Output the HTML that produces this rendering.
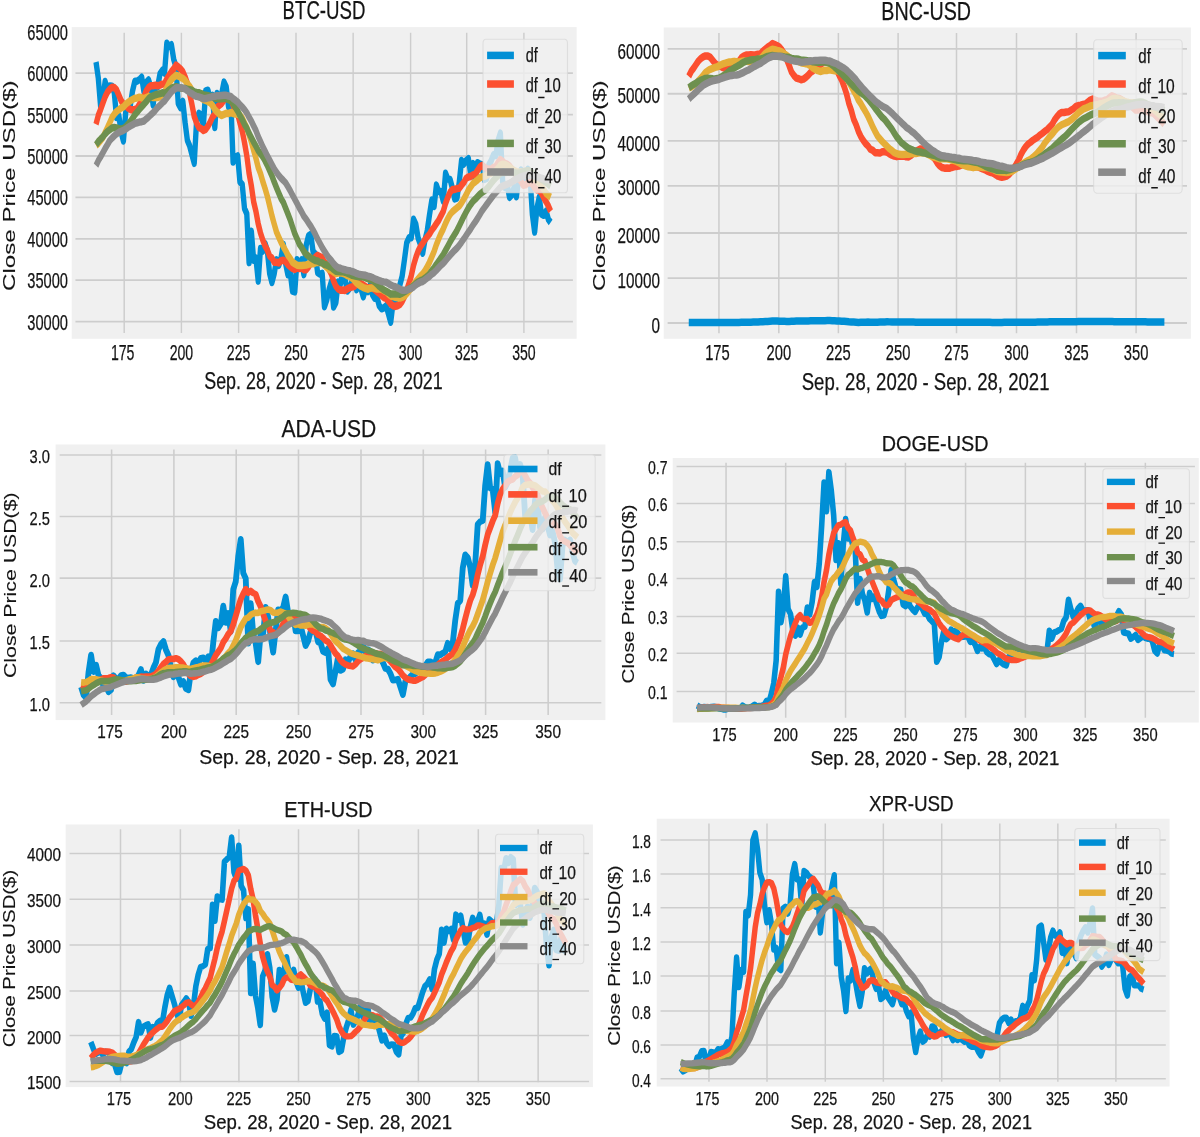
<!DOCTYPE html>
<html><head><meta charset="utf-8"><title>Crypto close price moving averages</title>
<style>html,body{margin:0;padding:0;background:#fff}svg{display:block;will-change:transform}text{stroke:#141414;stroke-width:.25px;stroke-linejoin:round}</style></head>
<body>
<svg width="1200" height="1137" viewBox="0 0 1200 1137">
<rect width="1200" height="1137" fill="#fff"/>
<g font-family="'Liberation Sans', sans-serif" fill="#141414">
<!-- BTC-USD -->
<rect x="71.7" y="27.1" width="504.95" height="311.65" fill="#f0f0f0"/>
<path d="M124.2 32.73V333.12M181.4 32.73V333.12M238.6 32.73V333.12M296 32.73V333.12M353.15 32.73V333.12M410.6 32.73V333.12M466.7 32.73V333.12M523.9 32.73V333.12" stroke="#cdcdcd" stroke-width="1.45" fill="none"/>
<path d="M75.44 321.6H572.91M75.44 280.2H572.91M75.44 238.8H572.91M75.44 197.4H572.91M75.44 156H572.91M75.44 114.6H572.91M75.44 73.2H572.91" stroke="#cdcdcd" stroke-width="1.78" fill="none"/>
<clipPath id="c0"><rect x="56.28" y="17.44" width="371.14" height="160.08"/></clipPath>
<g transform="scale(1.3404 1.8765)" fill="none" stroke-width="4" stroke-linejoin="round" stroke-linecap="butt" clip-path="url(#c0)">
<polyline points="71.63,32.99 73.33,41.56 75.03,56.54 76.74,52.58 78.44,43.46 80.15,47.93 81.85,45.77 83.56,45.92 85.26,49.41 86.96,62.62 88.67,61.69 90.37,70.36 92.08,75.08 93.78,59.93 95.49,56.24 97.19,56.35 98.90,48.40 100.60,43.25 102.30,43.25 104.01,42.47 105.71,41.19 107.42,49.05 109.12,43.96 110.83,42.64 112.53,46.45 114.23,55.91 115.94,45.88 117.64,46.22 119.35,39.39 121.05,37.58 122.76,38.95 124.46,23.02 126.17,24.76 127.87,23.85 129.57,31.54 131.28,35.46 132.98,55.17 134.69,57.34 136.39,54.04 138.10,65.37 139.80,74.83 141.50,77.78 143.21,82.38 144.91,87.00 146.62,64.86 148.32,60.39 150.03,61.31 151.73,66.91 153.44,48.40 155.14,48.06 156.84,53.34 158.55,50.83 160.25,67.89 161.96,49.84 163.66,54.38 165.37,50.14 167.07,43.76 168.77,46.28 170.48,56.75 172.18,53.02 173.89,86.35 175.59,83.85 177.30,83.13 179.00,96.90 180.71,98.24 182.41,111.12 184.11,113.89 185.82,139.95 187.52,123.27 189.23,138.62 190.93,137.60 192.64,149.80 194.34,132.44 196.04,133.78 197.75,129.84 199.45,133.63 201.16,145.71 202.86,150.48 204.57,145.80 206.27,138.50 207.98,141.36 209.68,137.43 211.38,130.22 213.09,140.43 214.79,146.36 216.50,144.98 218.20,155.14 219.91,155.53 221.61,138.44 223.31,141.28 225.02,138.49 226.72,146.35 228.43,130.71 230.13,125.76 231.84,124.93 233.54,134.02 235.25,135.32 236.95,145.31 238.65,146.07 240.36,145.71 242.06,163.45 243.77,159.80 245.47,154.42 247.18,150.28 248.88,163.63 250.59,161.20 252.29,150.34 253.99,151.28 255.70,144.96 257.40,148.61 259.11,155.09 260.81,153.65 262.52,150.25 264.22,147.52 265.92,154.32 267.63,152.16 269.33,153.84 271.04,158.15 272.74,154.09 274.45,155.32 276.15,152.14 277.86,156.93 279.56,158.93 281.26,158.40 282.97,163.00 284.67,164.58 286.38,164.09 288.08,162.92 289.79,167.24 291.49,171.70 293.19,161.54 294.90,160.64 296.60,155.05 298.31,151.91 300.01,147.24 301.72,138.48 303.42,129.35 305.13,126.75 306.83,126.69 308.53,116.86 310.24,119.55 311.94,126.84 313.65,130.25 315.35,134.88 317.06,127.84 318.76,122.89 320.46,114.30 322.17,106.63 323.87,109.97 325.58,98.64 327.28,102.08 328.99,102.05 330.69,107.19 332.40,92.34 334.10,95.41 335.80,95.63 337.51,100.23 339.21,106.01 340.92,105.54 342.62,97.09 344.33,85.52 346.03,87.43 347.73,85.60 349.44,84.60 351.14,92.72 352.85,87.19 354.55,96.09 356.26,86.76 357.96,87.45 359.67,87.77 361.37,95.60 363.07,95.11 364.78,87.69 366.48,85.57 368.19,82.49 369.89,82.85 371.60,74.87 373.30,70.98 375.00,96.67 376.71,99.85 378.41,98.52 380.12,105.18 381.82,103.78 383.53,99.97 385.23,104.83 386.94,95.43 388.64,90.65 390.34,92.38 392.05,94.66 393.75,90.20 395.46,94.69 397.16,114.18 398.87,123.67 400.57,110.95 402.27,105.13 403.98,114.20 405.68,114.74 407.39,112.57 409.09,116.86 410.80,118.56" stroke="#008fd5"/>
<polyline points="71.63,66.25 73.33,61.51 75.03,58.43 76.74,54.94 78.44,51.56 80.15,49.09 81.85,47.53 83.56,46.52 85.26,46.64 86.96,47.88 88.67,50.75 90.37,53.63 92.08,55.48 93.78,56.22 95.49,57.50 97.19,58.34 98.90,58.60 100.60,58.33 102.30,57.72 104.01,55.70 105.71,53.65 107.42,51.52 109.12,48.41 110.83,46.68 112.53,45.70 114.23,45.66 115.94,45.41 117.64,45.70 119.35,45.32 121.05,44.83 122.76,44.60 124.46,42.00 126.17,40.08 127.87,38.20 129.57,36.71 131.28,34.66 132.98,35.59 134.69,36.71 136.39,38.17 138.10,40.95 139.80,44.54 141.50,50.01 143.21,55.78 144.91,62.09 146.62,65.42 148.32,67.91 150.03,68.53 151.73,69.49 153.44,68.92 155.14,67.19 156.84,65.04 158.55,62.35 160.25,60.90 161.96,57.19 163.66,56.14 165.37,55.11 167.07,53.36 168.77,51.29 170.48,52.13 172.18,52.62 173.89,55.92 175.59,59.23 177.30,60.75 179.00,65.46 180.71,69.84 182.41,75.94 184.11,82.95 185.82,92.32 187.52,98.97 189.23,107.53 190.93,112.66 192.64,119.25 194.34,124.18 196.04,127.87 197.75,131.03 199.45,133.28 201.16,136.46 202.86,137.52 204.57,139.77 206.27,139.76 207.98,140.13 209.68,138.89 211.38,138.67 213.09,139.34 214.79,140.99 216.50,142.13 218.20,143.07 219.91,143.57 221.61,142.84 223.31,143.12 225.02,142.83 226.72,143.72 228.43,143.77 230.13,142.30 231.84,140.16 233.54,139.07 235.25,137.08 236.95,136.06 238.65,136.82 240.36,137.27 242.06,139.76 243.77,141.11 245.47,143.48 247.18,145.93 248.88,149.80 250.59,152.52 252.29,154.02 253.99,154.62 255.70,154.51 257.40,154.80 259.11,153.96 260.81,153.35 262.52,152.93 264.22,152.65 265.92,151.72 267.63,150.82 269.33,151.17 271.04,151.86 272.74,152.77 274.45,153.44 276.15,153.15 277.86,153.47 279.56,154.34 281.26,155.43 282.97,156.30 284.67,157.54 286.38,158.56 288.08,159.04 289.79,160.35 291.49,161.99 293.19,162.93 294.90,163.30 296.60,162.92 298.31,162.27 300.01,160.69 301.72,158.08 303.42,154.61 305.13,150.99 306.83,146.93 308.53,141.45 310.24,137.25 311.94,133.87 313.65,131.39 315.35,129.69 317.06,127.75 318.76,126.19 320.46,124.69 322.17,122.67 323.87,121.00 325.58,119.18 327.28,117.43 328.99,114.95 330.69,112.65 332.40,108.39 334.10,105.15 335.80,102.42 337.51,101.02 339.21,100.95 340.92,100.51 342.62,100.36 344.33,98.70 346.03,97.24 347.73,95.08 349.44,94.31 351.14,94.04 352.85,93.19 354.55,92.78 356.26,90.85 357.96,89.04 359.67,88.11 361.37,89.12 363.07,89.89 364.78,90.10 366.48,90.19 368.19,89.17 369.89,88.74 371.60,86.61 373.30,85.04 375.00,85.96 376.71,87.17 378.41,87.46 380.12,88.47 381.82,90.08 383.53,91.52 385.23,93.75 386.94,95.01 388.64,96.59 390.34,98.73 392.05,98.52 393.75,97.56 395.46,97.18 397.16,98.08 398.87,100.07 400.57,101.16 402.27,101.19 403.98,103.07 405.68,105.48 407.39,107.50 409.09,109.72 410.80,112.56" stroke="#fc4f30"/>
<polyline points="71.63,77.50 73.33,76.38 75.03,74.82 76.74,73.25 78.44,70.65 80.15,68.11 81.85,65.43 83.56,62.52 85.26,60.78 86.96,59.42 88.67,58.50 90.37,57.57 92.08,56.95 93.78,55.58 95.49,54.53 97.19,53.71 98.90,53.07 100.60,52.42 102.30,52.18 104.01,51.79 105.71,52.20 107.42,52.58 109.12,51.95 110.83,51.45 112.53,51.60 114.23,52.00 115.94,52.00 117.64,52.02 119.35,51.52 121.05,50.27 122.76,49.13 124.46,46.76 126.17,44.24 127.87,42.44 129.57,41.21 131.28,40.16 132.98,40.50 134.69,41.20 136.39,41.74 138.10,42.89 139.80,44.57 141.50,46.01 143.21,47.93 144.91,50.15 146.62,51.07 148.32,51.29 150.03,52.06 151.73,53.10 153.44,53.55 155.14,54.07 156.84,54.79 158.55,56.18 160.25,58.34 161.96,59.64 163.66,60.78 165.37,61.51 167.07,60.94 168.77,60.39 170.48,60.52 172.18,59.91 173.89,60.48 175.59,60.79 177.30,60.83 179.00,61.32 180.71,62.99 182.41,65.53 184.11,68.15 185.82,71.81 187.52,75.55 189.23,80.08 190.93,84.29 192.64,89.24 194.34,92.47 196.04,96.66 197.75,100.44 199.45,104.61 201.16,109.71 202.86,114.92 204.57,119.37 206.27,123.64 207.98,126.39 209.68,129.07 211.38,131.43 213.09,133.60 214.79,136.01 216.50,137.70 218.20,139.77 219.91,140.55 221.61,141.30 223.31,141.44 225.02,141.48 226.72,141.31 228.43,141.22 230.13,140.82 231.84,140.58 233.54,140.60 235.25,140.08 236.95,139.82 238.65,139.83 240.36,140.19 242.06,141.30 243.77,142.42 245.47,143.63 247.18,144.12 248.88,144.98 250.59,145.79 252.29,145.55 253.99,145.34 255.70,145.67 257.40,146.03 259.11,146.86 260.81,147.23 262.52,148.20 264.22,149.29 265.92,150.76 267.63,151.67 269.33,152.60 271.04,153.24 272.74,153.64 274.45,154.12 276.15,153.55 277.86,153.41 279.56,153.63 281.26,154.04 282.97,154.01 284.67,154.18 286.38,154.87 288.08,155.45 289.79,156.56 291.49,157.72 293.19,158.04 294.90,158.39 296.60,158.63 298.31,158.85 300.01,158.49 301.72,157.81 303.42,156.58 305.13,155.01 306.83,153.64 308.53,151.72 310.24,150.09 311.94,148.59 313.65,147.15 315.35,145.98 317.06,144.22 318.76,142.14 320.46,139.65 322.17,136.83 323.87,133.97 325.58,130.31 327.28,127.34 328.99,124.41 330.69,122.02 332.40,119.04 334.10,116.45 335.80,114.31 337.51,112.85 339.21,111.81 340.92,110.76 342.62,109.77 344.33,108.07 346.03,106.10 347.73,103.86 349.44,101.35 351.14,99.59 352.85,97.81 354.55,96.90 356.26,95.90 357.96,94.78 359.67,94.23 361.37,93.91 363.07,93.56 364.78,92.59 366.48,92.25 368.19,91.60 369.89,90.96 371.60,89.70 373.30,87.94 375.00,87.50 376.71,87.64 378.41,88.29 380.12,89.18 381.82,90.09 383.53,90.85 385.23,91.46 386.94,91.87 388.64,91.60 390.34,91.88 392.05,92.24 393.75,92.36 395.46,92.32 397.16,93.27 398.87,95.07 400.57,96.34 402.27,97.47 403.98,99.04 405.68,101.03 407.39,103.11 409.09,104.12 410.80,105.06" stroke="#e5ae38"/>
<polyline points="71.63,77.17 73.33,75.43 75.03,74.14 76.74,72.95 78.44,71.34 80.15,70.07 81.85,69.16 83.56,68.18 85.26,67.94 86.96,68.17 88.67,68.58 90.37,68.80 92.08,68.37 93.78,67.57 95.49,66.27 97.19,64.85 98.90,63.15 100.60,61.13 102.30,59.76 104.01,58.18 105.71,56.88 107.42,55.55 109.12,54.11 110.83,52.61 112.53,51.59 114.23,51.03 115.94,50.51 117.64,50.18 119.35,49.89 121.05,49.47 122.76,49.67 124.46,49.05 126.17,47.99 127.87,47.03 129.57,46.64 131.28,46.22 132.98,46.53 134.69,46.91 136.39,47.07 138.10,47.16 139.80,47.60 141.50,47.85 143.21,48.09 144.91,48.99 146.62,49.28 148.32,49.41 150.03,49.84 151.73,50.63 153.44,50.80 155.14,50.99 156.84,51.39 158.55,51.45 160.25,52.25 161.96,52.49 163.66,52.76 165.37,52.56 167.07,52.49 168.77,52.49 170.48,53.07 172.18,53.59 173.89,55.17 175.59,57.20 177.30,59.14 179.00,61.58 180.71,63.80 182.41,66.32 184.11,68.28 185.82,71.03 187.52,73.34 189.23,75.78 190.93,77.87 192.64,80.28 194.34,81.94 196.04,83.50 197.75,85.67 199.45,88.11 201.16,90.92 202.86,93.71 204.57,96.96 206.27,99.97 207.98,102.90 209.68,105.79 211.38,107.87 213.09,110.89 214.79,113.95 216.50,117.12 218.20,120.83 219.91,124.47 221.61,127.19 223.31,130.14 225.02,131.87 226.72,133.96 228.43,135.54 230.13,136.50 231.84,137.39 233.54,138.16 235.25,138.87 236.95,139.05 238.65,139.81 240.36,140.05 242.06,140.91 243.77,141.24 245.47,141.97 247.18,142.52 248.88,143.65 250.59,144.57 252.29,144.72 253.99,144.75 255.70,144.72 257.40,145.06 259.11,145.52 260.81,146.06 262.52,146.73 264.22,146.96 265.92,147.23 267.63,147.47 269.33,147.42 271.04,147.51 272.74,148.03 274.45,148.50 276.15,148.96 277.86,149.31 279.56,150.25 281.26,151.34 282.97,152.61 284.67,153.63 286.38,154.58 288.08,155.17 289.79,155.88 291.49,156.74 293.19,156.68 294.90,156.71 296.60,156.73 298.31,156.78 300.01,156.24 301.72,155.48 303.42,154.78 305.13,153.96 306.83,153.35 308.53,152.29 310.24,151.11 311.94,150.22 313.65,149.55 315.35,149.13 317.06,148.25 318.76,147.27 320.46,145.95 322.17,144.23 323.87,142.76 325.58,140.87 327.28,139.21 328.99,137.38 330.69,135.65 332.40,133.45 334.10,131.20 335.80,128.90 337.51,126.77 339.21,124.87 340.92,122.82 342.62,120.33 344.33,117.79 346.03,115.35 347.73,113.04 349.44,110.80 351.14,108.98 352.85,107.27 354.55,106.16 356.26,104.83 357.96,103.52 359.67,102.55 361.37,101.75 363.07,100.69 364.78,99.27 366.48,97.63 368.19,96.12 369.89,94.78 371.60,93.47 373.30,92.28 375.00,91.84 376.71,91.88 378.41,91.76 380.12,91.86 381.82,91.75 383.53,92.01 385.23,92.32 386.94,92.31 388.64,91.99 390.34,91.54 392.05,91.18 393.75,90.95 395.46,91.25 397.16,92.14 398.87,93.41 400.57,94.29 402.27,94.70 403.98,95.60 405.68,96.23 407.39,97.09 409.09,98.07 410.80,99.09" stroke="#6d904f"/>
<polyline points="71.63,88.26 73.33,85.64 75.03,83.61 76.74,81.41 78.44,79.13 80.15,77.08 81.85,74.93 83.56,73.59 85.26,72.38 86.96,71.32 88.67,70.56 90.37,69.98 92.08,69.47 93.78,68.77 95.49,67.88 97.19,67.14 98.90,66.52 100.60,65.72 102.30,65.39 104.01,65.06 105.71,64.85 107.42,64.48 109.12,63.38 110.83,62.35 112.53,61.13 114.23,60.05 115.94,58.72 117.64,57.27 119.35,56.15 121.05,54.84 122.76,53.81 124.46,52.16 126.17,50.60 127.87,49.01 129.57,47.87 131.28,46.94 132.98,46.78 134.69,46.81 136.39,46.96 138.10,47.34 139.80,48.39 141.50,49.29 143.21,49.94 144.91,50.80 146.62,51.33 148.32,51.64 150.03,52.03 151.73,52.56 153.44,52.53 155.14,52.17 156.84,51.96 158.55,51.47 160.25,51.29 161.96,51.04 163.66,50.99 165.37,50.84 167.07,50.72 168.77,50.80 170.48,51.13 172.18,51.40 173.89,52.53 175.59,53.40 177.30,54.38 179.00,55.73 180.71,57.03 182.41,58.41 184.11,60.11 185.82,62.45 187.52,64.55 189.23,67.07 190.93,69.54 192.64,72.71 194.34,75.40 196.04,78.15 197.75,80.61 199.45,83.06 201.16,85.33 202.86,87.65 204.57,89.95 206.27,91.78 207.98,93.44 209.68,94.93 211.38,96.13 213.09,97.46 214.79,99.50 216.50,101.61 218.20,103.96 219.91,106.18 221.61,108.43 223.31,110.76 225.02,112.89 226.72,115.27 228.43,116.84 230.13,118.74 231.84,120.51 233.54,122.60 235.25,124.89 236.95,127.37 238.65,129.60 240.36,131.92 242.06,133.85 243.77,135.74 245.47,137.53 247.18,138.86 248.88,140.50 250.59,141.75 252.29,142.66 253.99,142.94 255.70,143.48 257.40,143.73 259.11,144.17 260.81,144.27 262.52,144.71 264.22,145.06 265.92,145.67 267.63,146.13 269.33,146.34 271.04,146.53 272.74,146.73 274.45,147.16 276.15,147.42 277.86,147.91 279.56,148.63 281.26,149.08 282.97,149.50 284.67,149.99 286.38,150.21 288.08,150.39 289.79,151.11 291.49,151.87 293.19,152.45 294.90,152.81 296.60,153.42 298.31,154.07 300.01,154.63 301.72,154.74 303.42,154.59 305.13,154.13 306.83,153.64 308.53,152.92 310.24,151.82 311.94,151.00 313.65,150.39 315.35,150.01 317.06,149.11 318.76,148.16 320.46,147.26 322.17,146.14 323.87,145.26 325.58,144.02 327.28,142.69 328.99,141.40 330.69,140.32 332.40,138.94 334.10,137.47 335.80,136.06 337.51,134.72 339.21,133.41 340.92,132.20 342.62,130.74 344.33,129.08 346.03,127.34 347.73,125.51 349.44,123.66 351.14,121.91 352.85,119.97 354.55,118.27 356.26,116.37 357.96,114.37 359.67,112.27 361.37,110.63 363.07,108.99 364.78,107.30 366.48,105.64 368.19,104.03 369.89,102.64 371.60,101.27 373.30,99.88 375.00,99.13 376.71,98.70 378.41,98.18 380.12,97.64 381.82,96.97 383.53,96.10 385.23,95.53 386.94,94.84 388.64,94.25 390.34,93.89 392.05,93.51 393.75,93.30 395.46,93.11 397.16,93.42 398.87,93.83 400.57,94.29 402.27,94.54 403.98,95.00 405.68,95.36 407.39,95.53 409.09,95.81 410.80,96.35" stroke="#8b8b8b"/>
</g>
<rect x="483" y="39.25" width="84.5" height="153.55" rx="2.95" ry="4.13" fill="#f0f0f0" fill-opacity="0.8" stroke="#d8d8d8" stroke-opacity="0.75" stroke-width="1.1"/>
<rect x="487.1" y="51.65" width="26.8" height="7.51" fill="#008fd5"/>
<text x="525.71" y="62.34" font-size="20.72" text-anchor="start" textLength="12.06" lengthAdjust="spacingAndGlyphs">df</text>
<rect x="487.1" y="80.25" width="26.8" height="7.51" fill="#fc4f30"/>
<text x="525.71" y="92.42" font-size="20.72" text-anchor="start" textLength="12.06" lengthAdjust="spacingAndGlyphs">df</text>
<rect x="538.18" y="96.74" width="6.3" height="1.5" fill="#141414"/>
<text x="544.08" y="92.42" font-size="20.72" text-anchor="start" textLength="16.62" lengthAdjust="spacingAndGlyphs">10</text>
<rect x="487.1" y="109.85" width="26.8" height="7.51" fill="#e5ae38"/>
<text x="525.71" y="122.5" font-size="20.72" text-anchor="start" textLength="12.06" lengthAdjust="spacingAndGlyphs">df</text>
<rect x="538.18" y="126.82" width="6.3" height="1.5" fill="#141414"/>
<text x="544.61" y="122.5" font-size="20.72" text-anchor="start" textLength="16.62" lengthAdjust="spacingAndGlyphs">20</text>
<rect x="487.1" y="139.65" width="26.8" height="7.51" fill="#6d904f"/>
<text x="525.71" y="152.58" font-size="20.72" text-anchor="start" textLength="12.06" lengthAdjust="spacingAndGlyphs">df</text>
<rect x="538.18" y="156.9" width="6.3" height="1.5" fill="#141414"/>
<text x="544.61" y="152.58" font-size="20.72" text-anchor="start" textLength="16.62" lengthAdjust="spacingAndGlyphs">30</text>
<rect x="487.1" y="168.25" width="26.8" height="7.51" fill="#8b8b8b"/>
<text x="525.71" y="182.66" font-size="20.72" text-anchor="start" textLength="12.06" lengthAdjust="spacingAndGlyphs">df</text>
<rect x="538.18" y="186.98" width="6.3" height="1.5" fill="#141414"/>
<text x="544.61" y="182.66" font-size="20.72" text-anchor="start" textLength="16.62" lengthAdjust="spacingAndGlyphs">40</text>
<text x="122.7" y="360" font-size="21.58" text-anchor="middle" textLength="23.53" lengthAdjust="spacingAndGlyphs">175</text>
<text x="181.4" y="360" font-size="21.58" text-anchor="middle" textLength="23.53" lengthAdjust="spacingAndGlyphs">200</text>
<text x="238.6" y="360" font-size="21.58" text-anchor="middle" textLength="23.53" lengthAdjust="spacingAndGlyphs">225</text>
<text x="296" y="360" font-size="21.58" text-anchor="middle" textLength="23.53" lengthAdjust="spacingAndGlyphs">250</text>
<text x="353.15" y="360" font-size="21.58" text-anchor="middle" textLength="23.53" lengthAdjust="spacingAndGlyphs">275</text>
<text x="410.6" y="360" font-size="21.58" text-anchor="middle" textLength="23.53" lengthAdjust="spacingAndGlyphs">300</text>
<text x="466.7" y="360" font-size="21.58" text-anchor="middle" textLength="23.53" lengthAdjust="spacingAndGlyphs">325</text>
<text x="523.9" y="360" font-size="21.58" text-anchor="middle" textLength="23.53" lengthAdjust="spacingAndGlyphs">350</text>
<text x="68" y="329.51" font-size="21.58" text-anchor="end" textLength="40.71" lengthAdjust="spacingAndGlyphs">30000</text>
<text x="68" y="288.11" font-size="21.58" text-anchor="end" textLength="40.71" lengthAdjust="spacingAndGlyphs">35000</text>
<text x="68" y="246.71" font-size="21.58" text-anchor="end" textLength="40.71" lengthAdjust="spacingAndGlyphs">40000</text>
<text x="68" y="205.31" font-size="21.58" text-anchor="end" textLength="40.71" lengthAdjust="spacingAndGlyphs">45000</text>
<text x="68" y="163.91" font-size="21.58" text-anchor="end" textLength="40.71" lengthAdjust="spacingAndGlyphs">50000</text>
<text x="68" y="122.51" font-size="21.58" text-anchor="end" textLength="40.71" lengthAdjust="spacingAndGlyphs">55000</text>
<text x="68" y="81.11" font-size="21.58" text-anchor="end" textLength="40.71" lengthAdjust="spacingAndGlyphs">60000</text>
<text x="68" y="39.71" font-size="21.58" text-anchor="end" textLength="40.71" lengthAdjust="spacingAndGlyphs">65000</text>
<text x="324" y="19.3" font-size="26.08" text-anchor="middle" textLength="82.9" lengthAdjust="spacingAndGlyphs">BTC-USD</text>
<text x="323.5" y="389.4" font-size="23.27" text-anchor="middle" textLength="238.5" lengthAdjust="spacingAndGlyphs">Sep. 28, 2020 - Sep. 28, 2021</text>
<text transform="translate(14.83 185.7) rotate(-90)" style="stroke-width:.1px" font-size="15.72" text-anchor="middle" textLength="210.6" lengthAdjust="spacingAndGlyphs">Close Price USD($)</text>
<!-- BNC-USD -->
<rect x="663.75" y="27.5" width="527.15" height="311.25" fill="#f0f0f0"/>
<path d="M718.95 33.12V333.13M778.8 33.12V333.13M838.4 33.12V333.13M898.1 33.12V333.13M956.5 33.12V333.13M1016.5 33.12V333.13M1076.5 33.12V333.13M1136.1 33.12V333.13" stroke="#cdcdcd" stroke-width="1.51" fill="none"/>
<path d="M667.65 323H1187M667.65 278.1H1187M667.65 233H1187M667.65 185.8H1187M667.65 140.9H1187M667.65 93.75H1187M667.65 48.9H1187" stroke="#cdcdcd" stroke-width="1.78" fill="none"/>
<clipPath id="c1"><rect x="477.12" y="17.67" width="371.14" height="160.08"/></clipPath>
<g transform="scale(1.3993 1.8741)" fill="none" stroke-width="4" stroke-linejoin="round" stroke-linecap="butt" clip-path="url(#c1)">
<polyline points="492.21,172.03 493.92,172.04 495.63,172.04 497.34,172.05 499.05,172.05 500.75,172.06 502.46,172.06 504.17,172.07 505.88,172.07 507.59,172.07 509.29,172.07 511.00,172.07 512.71,172.07 514.42,172.08 516.13,172.08 517.83,172.08 519.54,172.08 521.25,172.08 522.96,172.07 524.67,172.06 526.38,172.04 528.08,172.02 529.79,172.00 531.50,171.98 533.21,171.96 534.92,171.94 536.62,171.91 538.33,171.88 540.04,171.83 541.75,171.76 543.46,171.69 545.16,171.63 546.87,171.57 548.58,171.51 550.29,171.44 552.00,171.34 553.70,171.27 555.41,171.32 557.12,171.41 558.83,171.47 560.54,171.48 562.25,171.49 563.95,171.49 565.66,171.46 567.37,171.40 569.08,171.34 570.79,171.32 572.49,171.29 574.20,171.27 575.91,171.25 577.62,171.22 579.33,171.20 581.03,171.17 582.74,171.15 584.45,171.13 586.16,171.11 587.87,171.10 589.57,171.09 591.28,171.08 592.99,171.08 594.70,171.11 596.41,171.18 598.12,171.25 599.82,171.30 601.53,171.36 603.24,171.44 604.95,171.59 606.66,171.74 608.36,171.82 610.07,171.88 611.78,171.97 613.49,172.03 615.20,172.01 616.90,171.96 618.61,171.91 620.32,171.88 622.03,171.89 623.74,171.89 625.45,171.90 627.15,171.91 628.86,171.88 630.57,171.82 632.28,171.76 633.99,171.74 635.69,171.75 637.40,171.78 639.11,171.81 640.82,171.83 642.53,171.84 644.23,171.84 645.94,171.85 647.65,171.85 649.36,171.85 651.07,171.86 652.77,171.87 654.48,171.89 656.19,171.92 657.90,171.94 659.61,171.97 661.32,171.98 663.02,171.99 664.73,172.00 666.44,172.00 668.15,172.00 669.86,172.00 671.56,172.00 673.27,171.99 674.98,171.98 676.69,171.97 678.40,171.96 680.10,171.95 681.81,171.94 683.52,171.93 685.23,171.93 686.94,171.93 688.65,171.94 690.35,171.94 692.06,171.95 693.77,171.95 695.48,171.96 697.19,171.96 698.89,171.96 700.60,171.97 702.31,171.97 704.02,171.97 705.73,171.98 707.43,172.00 709.14,172.02 710.85,172.04 712.56,172.05 714.27,172.04 715.97,172.02 717.68,172.00 719.39,171.98 721.10,171.97 722.81,171.96 724.52,171.95 726.22,171.94 727.93,171.94 729.64,171.93 731.35,171.92 733.06,171.91 734.76,171.91 736.47,171.90 738.18,171.89 739.89,171.89 741.60,171.88 743.30,171.87 745.01,171.84 746.72,171.80 748.43,171.76 750.14,171.74 751.84,171.73 753.55,171.73 755.26,171.72 756.97,171.72 758.68,171.72 760.39,171.71 762.09,171.70 763.80,171.69 765.51,171.67 767.22,171.65 768.93,171.63 770.63,171.61 772.34,171.60 774.05,171.58 775.76,171.56 777.47,171.54 779.17,171.52 780.88,171.51 782.59,171.50 784.30,171.49 786.01,171.49 787.72,171.50 789.42,171.50 791.13,171.50 792.84,171.50 794.55,171.49 796.26,171.69 797.96,171.70 799.67,171.71 801.38,171.71 803.09,171.71 804.80,171.71 806.50,171.70 808.21,171.70 809.92,171.69 811.63,171.69 813.34,171.69 815.04,171.69 816.75,171.70 818.46,171.71 820.17,171.77 821.88,171.83 823.59,171.84 825.29,171.85 827.00,171.85 828.71,171.86 830.42,171.87 832.13,171.88" stroke="#008fd5"/>
<polyline points="492.21,40.75 493.92,38.13 495.63,36.42 497.34,34.49 499.05,32.61 500.75,31.24 502.46,30.38 504.17,29.82 505.88,29.89 507.59,30.57 509.29,32.16 511.00,33.76 512.71,34.79 514.42,35.19 516.13,35.90 517.83,36.37 519.54,36.51 521.25,36.37 522.96,36.03 524.67,34.91 526.38,33.77 528.08,32.59 529.79,30.87 531.50,29.91 533.21,29.37 534.92,29.34 536.62,29.20 538.33,29.37 540.04,29.15 541.75,28.88 543.46,28.76 545.16,27.31 546.87,26.25 548.58,25.21 550.29,24.38 552.00,23.25 553.70,23.77 555.41,24.38 557.12,25.19 558.83,26.73 560.54,28.72 562.25,31.76 563.95,34.95 565.66,38.45 567.37,40.29 569.08,41.68 570.79,42.02 572.49,42.55 574.20,42.23 575.91,41.28 577.62,40.09 579.33,38.59 581.03,37.79 582.74,35.73 584.45,35.15 586.16,34.58 587.87,33.61 589.57,32.47 591.28,32.93 592.99,33.20 594.70,35.03 596.41,36.86 598.12,37.71 599.82,40.31 601.53,42.74 603.24,46.12 604.95,50.01 606.66,55.20 608.36,58.89 610.07,63.63 611.78,66.47 613.49,70.13 615.20,72.86 616.90,74.90 618.61,76.65 620.32,77.90 622.03,79.66 623.74,80.25 625.45,81.49 627.15,81.49 628.86,81.70 630.57,81.01 632.28,80.89 633.99,81.26 635.69,82.17 637.40,82.80 639.11,83.32 640.82,83.60 642.53,83.20 644.23,83.35 645.94,83.19 647.65,83.69 649.36,83.71 651.07,82.90 652.77,81.71 654.48,81.10 656.19,80.01 657.90,79.44 659.61,79.86 661.32,80.11 663.02,81.49 664.73,82.24 666.44,83.55 668.15,84.91 669.86,87.05 671.56,88.56 673.27,89.39 674.98,89.72 676.69,89.66 678.40,89.82 680.10,89.36 681.81,89.02 683.52,88.79 685.23,88.63 686.94,88.12 688.65,87.62 690.35,87.81 692.06,88.19 693.77,88.70 695.48,89.07 697.19,88.91 698.89,89.09 700.60,89.57 702.31,90.17 704.02,90.65 705.73,91.34 707.43,91.91 709.14,92.17 710.85,92.90 712.56,93.81 714.27,94.33 715.97,94.54 717.68,94.32 719.39,93.96 721.10,93.09 722.81,91.64 724.52,89.72 726.22,87.71 727.93,85.47 729.64,82.43 731.35,80.10 733.06,78.23 734.76,76.85 736.47,75.91 738.18,74.83 739.89,73.97 741.60,73.14 743.30,72.02 745.01,71.09 746.72,70.08 748.43,69.12 750.14,67.74 751.84,66.46 753.55,64.11 755.26,62.31 756.97,60.80 758.68,60.02 760.39,59.99 762.09,59.74 763.80,59.65 765.51,58.74 767.22,57.93 768.93,56.73 770.63,56.30 772.34,56.15 774.05,55.68 775.76,55.46 777.47,54.39 779.17,53.39 780.88,52.87 782.59,53.43 784.30,53.85 786.01,53.97 787.72,54.02 789.42,53.46 791.13,53.21 792.84,52.04 794.55,51.16 796.26,51.68 797.96,52.34 799.67,52.51 801.38,53.07 803.09,53.96 804.80,54.75 806.50,55.99 808.21,56.69 809.92,57.56 811.63,58.75 813.34,58.64 815.04,58.10 816.75,57.89 818.46,58.39 820.17,59.49 821.88,60.10 823.59,60.12 825.29,61.16 827.00,62.49 828.71,63.61 830.42,64.84 832.13,66.41" stroke="#fc4f30"/>
<polyline points="492.21,46.99 493.92,46.37 495.63,45.50 497.34,44.63 499.05,43.19 500.75,41.78 502.46,40.30 504.17,38.69 505.88,37.72 507.59,36.97 509.29,36.46 511.00,35.94 512.71,35.60 514.42,34.84 516.13,34.26 517.83,33.81 519.54,33.45 521.25,33.09 522.96,32.96 524.67,32.74 526.38,32.97 528.08,33.18 529.79,32.83 531.50,32.55 533.21,32.63 534.92,32.86 536.62,32.86 538.33,32.87 540.04,32.59 541.75,31.90 543.46,31.27 545.16,29.95 546.87,28.56 548.58,27.56 550.29,26.88 552.00,26.30 553.70,26.48 555.41,26.87 557.12,27.17 558.83,27.81 560.54,28.74 562.25,29.54 563.95,30.60 565.66,31.83 567.37,32.34 569.08,32.46 570.79,32.89 572.49,33.46 574.20,33.71 575.91,34.00 577.62,34.40 579.33,35.17 581.03,36.37 582.74,37.09 584.45,37.72 586.16,38.13 587.87,37.81 589.57,37.51 591.28,37.58 592.99,37.24 594.70,37.56 596.41,37.73 598.12,37.75 599.82,38.02 601.53,38.95 603.24,40.35 604.95,41.81 606.66,43.83 608.36,45.91 610.07,48.42 611.78,50.75 613.49,53.49 615.20,55.28 616.90,57.61 618.61,59.70 620.32,62.01 622.03,64.84 623.74,67.72 625.45,70.19 627.15,72.56 628.86,74.08 630.57,75.57 632.28,76.87 633.99,78.08 635.69,79.41 637.40,80.35 639.11,81.49 640.82,81.92 642.53,82.34 644.23,82.42 645.94,82.44 647.65,82.35 649.36,82.30 651.07,82.08 652.77,81.94 654.48,81.95 656.19,81.66 657.90,81.52 659.61,81.53 661.32,81.73 663.02,82.34 664.73,82.96 666.44,83.63 668.15,83.90 669.86,84.38 671.56,84.83 673.27,84.70 674.98,84.58 676.69,84.76 678.40,84.97 680.10,85.43 681.81,85.63 683.52,86.17 685.23,86.77 686.94,87.59 688.65,88.09 690.35,88.60 692.06,88.96 693.77,89.18 695.48,89.45 697.19,89.13 698.89,89.05 700.60,89.18 702.31,89.40 704.02,89.39 705.73,89.48 707.43,89.86 709.14,90.18 710.85,90.80 712.56,91.44 714.27,91.62 715.97,91.81 717.68,91.95 719.39,92.07 721.10,91.87 722.81,91.49 724.52,90.81 726.22,89.94 727.93,89.18 729.64,88.12 731.35,87.22 733.06,86.38 734.76,85.59 736.47,84.94 738.18,83.96 739.89,82.81 741.60,81.43 743.30,79.87 745.01,78.28 746.72,76.26 748.43,74.61 750.14,72.98 751.84,71.66 753.55,70.01 755.26,68.57 756.97,67.38 758.68,66.58 760.39,66.00 762.09,65.42 763.80,64.87 765.51,63.93 767.22,62.83 768.93,61.60 770.63,60.20 772.34,59.23 774.05,58.24 775.76,57.74 777.47,57.19 779.17,56.56 780.88,56.26 782.59,56.08 784.30,55.89 786.01,55.35 787.72,55.16 789.42,54.80 791.13,54.45 792.84,53.75 794.55,52.78 796.26,52.53 797.96,52.61 799.67,52.97 801.38,53.46 803.09,53.96 804.80,54.39 806.50,54.72 808.21,54.95 809.92,54.80 811.63,54.96 813.34,55.16 815.04,55.22 816.75,55.20 818.46,55.73 820.17,56.72 821.88,57.43 823.59,58.06 825.29,58.92 827.00,60.03 828.71,61.18 830.42,61.74 832.13,62.26" stroke="#e5ae38"/>
<polyline points="492.21,46.80 493.92,45.84 495.63,45.13 497.34,44.47 499.05,43.58 500.75,42.87 502.46,42.37 504.17,41.82 505.88,41.69 507.59,41.82 509.29,42.05 511.00,42.16 512.71,41.93 514.42,41.49 516.13,40.76 517.83,39.98 519.54,39.04 521.25,37.91 522.96,37.16 524.67,36.28 526.38,35.56 528.08,34.83 529.79,34.02 531.50,33.20 533.21,32.63 534.92,32.32 536.62,32.03 538.33,31.85 540.04,31.69 541.75,31.45 543.46,31.56 545.16,31.22 546.87,30.64 548.58,30.10 550.29,29.88 552.00,29.65 553.70,29.83 555.41,30.04 557.12,30.12 558.83,30.18 560.54,30.42 562.25,30.55 563.95,30.69 565.66,31.19 567.37,31.35 569.08,31.42 570.79,31.66 572.49,32.10 574.20,32.19 575.91,32.30 577.62,32.52 579.33,32.55 581.03,33.00 582.74,33.13 584.45,33.28 586.16,33.17 587.87,33.13 589.57,33.13 591.28,33.45 592.99,33.74 594.70,34.61 596.41,35.74 598.12,36.81 599.82,38.16 601.53,39.40 603.24,40.79 604.95,41.88 606.66,43.40 608.36,44.68 610.07,46.04 611.78,47.20 613.49,48.53 615.20,49.45 616.90,50.32 618.61,51.52 620.32,52.87 622.03,54.43 623.74,55.97 625.45,57.77 627.15,59.44 628.86,61.07 630.57,62.67 632.28,63.82 633.99,65.49 635.69,67.19 637.40,68.94 639.11,71.00 640.82,73.02 642.53,74.53 644.23,76.16 645.94,77.12 647.65,78.27 649.36,79.15 651.07,79.69 652.77,80.18 654.48,80.60 656.19,81.00 657.90,81.10 659.61,81.52 661.32,81.65 663.02,82.13 664.73,82.31 666.44,82.72 668.15,83.02 669.86,83.65 671.56,84.16 673.27,84.24 674.98,84.26 676.69,84.24 678.40,84.43 680.10,84.68 681.81,84.98 683.52,85.35 685.23,85.48 686.94,85.63 688.65,85.76 690.35,85.74 692.06,85.79 693.77,86.07 695.48,86.33 697.19,86.59 698.89,86.78 700.60,87.30 702.31,87.91 704.02,88.61 705.73,89.17 707.43,89.70 709.14,90.03 710.85,90.42 712.56,90.90 714.27,90.87 715.97,90.88 717.68,90.89 719.39,90.92 721.10,90.62 722.81,90.20 724.52,89.81 726.22,89.36 727.93,89.02 729.64,88.44 731.35,87.78 733.06,87.28 734.76,86.91 736.47,86.68 738.18,86.19 739.89,85.65 741.60,84.92 743.30,83.97 745.01,83.15 746.72,82.11 748.43,81.18 750.14,80.17 751.84,79.21 753.55,77.99 755.26,76.74 756.97,75.47 758.68,74.29 760.39,73.24 762.09,72.10 763.80,70.72 765.51,69.32 767.22,67.97 768.93,66.68 770.63,65.44 772.34,64.43 774.05,63.48 775.76,62.87 777.47,62.13 779.17,61.41 780.88,60.87 782.59,60.43 784.30,59.84 786.01,59.05 787.72,58.14 789.42,57.31 791.13,56.57 792.84,55.84 794.55,55.18 796.26,54.93 797.96,54.96 799.67,54.89 801.38,54.95 803.09,54.89 804.80,55.03 806.50,55.20 808.21,55.20 809.92,55.02 811.63,54.77 813.34,54.57 815.04,54.44 816.75,54.61 818.46,55.10 820.17,55.81 821.88,56.29 823.59,56.52 825.29,57.02 827.00,57.37 828.71,57.84 830.42,58.39 832.13,58.95" stroke="#6d904f"/>
<polyline points="492.21,52.95 493.92,51.50 495.63,50.37 497.34,49.16 499.05,47.89 500.75,46.75 502.46,45.56 504.17,44.82 505.88,44.15 507.59,43.56 509.29,43.14 511.00,42.82 512.71,42.54 514.42,42.15 516.13,41.66 517.83,41.24 519.54,40.90 521.25,40.46 522.96,40.27 524.67,40.09 526.38,39.98 528.08,39.77 529.79,39.16 531.50,38.59 533.21,37.91 534.92,37.32 536.62,36.58 538.33,35.78 540.04,35.16 541.75,34.43 543.46,33.86 545.16,32.95 546.87,32.08 548.58,31.20 550.29,30.57 552.00,30.05 553.70,29.97 555.41,29.98 557.12,30.06 558.83,30.27 560.54,30.85 562.25,31.36 563.95,31.71 565.66,32.19 567.37,32.49 569.08,32.66 570.79,32.88 572.49,33.17 574.20,33.15 575.91,32.95 577.62,32.83 579.33,32.56 581.03,32.46 582.74,32.32 584.45,32.30 586.16,32.21 587.87,32.15 589.57,32.19 591.28,32.38 592.99,32.52 594.70,33.15 596.41,33.63 598.12,34.17 599.82,34.93 601.53,35.64 603.24,36.41 604.95,37.35 606.66,38.65 608.36,39.81 610.07,41.21 611.78,42.58 613.49,44.33 615.20,45.83 616.90,47.35 618.61,48.71 620.32,50.07 622.03,51.32 623.74,52.61 625.45,53.89 627.15,54.90 628.86,55.82 630.57,56.65 632.28,57.31 633.99,58.05 635.69,59.18 637.40,60.35 639.11,61.65 640.82,62.88 642.53,64.13 644.23,65.42 645.94,66.60 647.65,67.92 649.36,68.79 651.07,69.84 652.77,70.82 654.48,71.98 656.19,73.25 657.90,74.62 659.61,75.86 661.32,77.14 663.02,78.21 664.73,79.26 666.44,80.25 668.15,80.99 669.86,81.90 671.56,82.59 673.27,83.10 674.98,83.25 676.69,83.55 678.40,83.69 680.10,83.93 681.81,83.99 683.52,84.23 685.23,84.42 686.94,84.76 688.65,85.02 690.35,85.13 692.06,85.24 693.77,85.35 695.48,85.59 697.19,85.74 698.89,86.01 700.60,86.41 702.31,86.65 704.02,86.88 705.73,87.16 707.43,87.28 709.14,87.38 710.85,87.78 712.56,88.20 714.27,88.52 715.97,88.72 717.68,89.06 719.39,89.42 721.10,89.73 722.81,89.79 724.52,89.71 726.22,89.45 727.93,89.18 729.64,88.78 731.35,88.17 733.06,87.72 734.76,87.38 736.47,87.17 738.18,86.67 739.89,86.14 741.60,85.64 743.30,85.02 745.01,84.54 746.72,83.85 748.43,83.11 750.14,82.40 751.84,81.80 753.55,81.04 755.26,80.22 756.97,79.44 758.68,78.70 760.39,77.97 762.09,77.30 763.80,76.49 765.51,75.57 767.22,74.61 768.93,73.59 770.63,72.57 772.34,71.60 774.05,70.52 775.76,69.58 777.47,68.53 779.17,67.42 780.88,66.26 782.59,65.34 784.30,64.44 786.01,63.50 787.72,62.58 789.42,61.69 791.13,60.92 792.84,60.16 794.55,59.39 796.26,58.97 797.96,58.74 799.67,58.45 801.38,58.15 803.09,57.78 804.80,57.30 806.50,56.98 808.21,56.60 809.92,56.27 811.63,56.07 813.34,55.86 815.04,55.74 816.75,55.64 818.46,55.81 820.17,56.04 821.88,56.30 823.59,56.43 825.29,56.69 827.00,56.89 828.71,56.98 830.42,57.14 832.13,57.43" stroke="#8b8b8b"/>
</g>
<rect x="1093.7" y="39.7" width="88.5" height="153.5" rx="3.08" ry="4.12" fill="#f0f0f0" fill-opacity="0.8" stroke="#d8d8d8" stroke-opacity="0.75" stroke-width="1.1"/>
<rect x="1098.2" y="51.85" width="27.6" height="7.5" fill="#008fd5"/>
<text x="1138.24" y="62.53" font-size="20.69" text-anchor="start" textLength="12.59" lengthAdjust="spacingAndGlyphs">df</text>
<rect x="1098.2" y="80.25" width="27.6" height="7.5" fill="#fc4f30"/>
<text x="1138.24" y="92.58" font-size="20.69" text-anchor="start" textLength="12.59" lengthAdjust="spacingAndGlyphs">df</text>
<rect x="1151.25" y="96.89" width="6.58" height="1.5" fill="#141414"/>
<text x="1157.41" y="92.58" font-size="20.69" text-anchor="start" textLength="17.35" lengthAdjust="spacingAndGlyphs">10</text>
<rect x="1098.2" y="110.15" width="27.6" height="7.5" fill="#e5ae38"/>
<text x="1138.24" y="122.62" font-size="20.69" text-anchor="start" textLength="12.59" lengthAdjust="spacingAndGlyphs">df</text>
<rect x="1151.25" y="126.93" width="6.58" height="1.5" fill="#141414"/>
<text x="1157.97" y="122.62" font-size="20.69" text-anchor="start" textLength="17.35" lengthAdjust="spacingAndGlyphs">20</text>
<rect x="1098.2" y="140" width="27.6" height="7.5" fill="#6d904f"/>
<text x="1138.24" y="152.66" font-size="20.69" text-anchor="start" textLength="12.59" lengthAdjust="spacingAndGlyphs">df</text>
<rect x="1151.25" y="156.97" width="6.58" height="1.5" fill="#141414"/>
<text x="1157.97" y="152.66" font-size="20.69" text-anchor="start" textLength="17.35" lengthAdjust="spacingAndGlyphs">30</text>
<rect x="1098.2" y="168.45" width="27.6" height="7.5" fill="#8b8b8b"/>
<text x="1138.24" y="182.7" font-size="20.69" text-anchor="start" textLength="12.59" lengthAdjust="spacingAndGlyphs">df</text>
<rect x="1151.25" y="187.01" width="6.58" height="1.5" fill="#141414"/>
<text x="1157.97" y="182.7" font-size="20.69" text-anchor="start" textLength="17.35" lengthAdjust="spacingAndGlyphs">40</text>
<text x="717.45" y="360" font-size="21.55" text-anchor="middle" textLength="24.56" lengthAdjust="spacingAndGlyphs">175</text>
<text x="778.8" y="360" font-size="21.55" text-anchor="middle" textLength="24.56" lengthAdjust="spacingAndGlyphs">200</text>
<text x="838.4" y="360" font-size="21.55" text-anchor="middle" textLength="24.56" lengthAdjust="spacingAndGlyphs">225</text>
<text x="898.1" y="360" font-size="21.55" text-anchor="middle" textLength="24.56" lengthAdjust="spacingAndGlyphs">250</text>
<text x="956.5" y="360" font-size="21.55" text-anchor="middle" textLength="24.56" lengthAdjust="spacingAndGlyphs">275</text>
<text x="1016.5" y="360" font-size="21.55" text-anchor="middle" textLength="24.56" lengthAdjust="spacingAndGlyphs">300</text>
<text x="1076.5" y="360" font-size="21.55" text-anchor="middle" textLength="24.56" lengthAdjust="spacingAndGlyphs">325</text>
<text x="1136.1" y="360" font-size="21.55" text-anchor="middle" textLength="24.56" lengthAdjust="spacingAndGlyphs">350</text>
<text x="660.1" y="332.6" font-size="21.55" text-anchor="end" textLength="8.5" lengthAdjust="spacingAndGlyphs">0</text>
<text x="660.1" y="287.7" font-size="21.55" text-anchor="end" textLength="42.5" lengthAdjust="spacingAndGlyphs">10000</text>
<text x="660.1" y="242.6" font-size="21.55" text-anchor="end" textLength="42.5" lengthAdjust="spacingAndGlyphs">20000</text>
<text x="660.1" y="195.4" font-size="21.55" text-anchor="end" textLength="42.5" lengthAdjust="spacingAndGlyphs">30000</text>
<text x="660.1" y="150.5" font-size="21.55" text-anchor="end" textLength="42.5" lengthAdjust="spacingAndGlyphs">40000</text>
<text x="660.1" y="103.35" font-size="21.55" text-anchor="end" textLength="42.5" lengthAdjust="spacingAndGlyphs">50000</text>
<text x="660.1" y="58.5" font-size="21.55" text-anchor="end" textLength="42.5" lengthAdjust="spacingAndGlyphs">60000</text>
<text x="926.2" y="19.5" font-size="26.05" text-anchor="middle" textLength="89.7" lengthAdjust="spacingAndGlyphs">BNC-USD</text>
<text x="925.62" y="389.5" font-size="23.24" text-anchor="middle" textLength="247.75" lengthAdjust="spacingAndGlyphs">Sep. 28, 2020 - Sep. 28, 2021</text>
<text transform="translate(604.88 185.7) rotate(-90)" style="stroke-width:.1px" font-size="16.41" text-anchor="middle" textLength="210.6" lengthAdjust="spacingAndGlyphs">Close Price USD($)</text>
<!-- ADA-USD -->
<rect x="55.6" y="444.5" width="549.8" height="275.6" fill="#f0f0f0"/>
<path d="M111.6 449.48V715.12M173.9 449.48V715.12M236.2 449.48V715.12M298.5 449.48V715.12M361 449.48V715.12M423.3 449.48V715.12M485.6 449.48V715.12M548.15 449.48V715.12" stroke="#cdcdcd" stroke-width="1.58" fill="none"/>
<path d="M59.67 702.7H601.33M59.67 641H601.33M59.67 578.1H601.33M59.67 516.5H601.33M59.67 455H601.33" stroke="#cdcdcd" stroke-width="1.58" fill="none"/>
<clipPath id="c2"><rect x="40.89" y="270.86" width="371.14" height="160.08"/></clipPath>
<g transform="scale(1.4595 1.6594)" fill="none" stroke-width="4" stroke-linejoin="round" stroke-linecap="butt" clip-path="url(#c2)">
<polyline points="55.56,414.00 57.27,418.80 58.98,420.49 60.69,404.95 62.40,394.80 64.11,404.73 65.82,400.82 67.53,407.13 69.24,408.70 70.95,413.61 72.65,413.59 74.36,416.84 76.07,415.72 77.78,407.19 79.49,409.25 81.20,409.10 82.91,407.10 84.62,406.78 86.33,408.35 88.04,408.58 89.75,408.28 91.45,409.57 93.16,408.85 94.87,406.90 96.58,403.50 98.29,410.07 100.00,406.09 101.71,407.33 103.42,406.68 105.13,402.50 106.84,399.27 108.55,391.30 110.26,388.31 111.96,386.55 113.67,391.50 115.38,394.90 117.09,402.21 118.80,407.84 120.51,402.44 122.22,408.02 123.93,412.34 125.64,410.68 127.35,414.88 129.06,415.75 130.76,405.03 132.47,399.51 134.18,398.16 135.89,399.87 137.60,396.68 139.31,396.44 141.02,398.36 142.73,395.70 144.44,401.70 146.15,387.03 147.86,374.41 149.56,378.38 151.27,375.98 152.98,365.26 154.69,375.11 156.40,369.70 158.11,380.45 159.82,355.16 161.53,350.44 163.24,335.22 164.95,325.01 166.66,345.33 168.36,348.58 170.07,387.60 171.78,363.68 173.49,381.90 175.20,387.75 176.91,398.84 178.62,381.23 180.33,381.75 182.04,365.93 183.75,372.10 185.46,383.46 187.16,393.02 188.87,380.07 190.58,367.49 192.29,367.81 194.00,366.13 195.71,359.71 197.42,369.11 199.13,373.83 200.84,369.60 202.55,380.28 204.26,380.22 205.96,377.09 207.67,383.01 209.38,389.10 211.09,386.34 212.80,380.77 214.51,380.39 216.22,380.07 217.93,386.93 219.64,387.41 221.35,392.63 223.06,393.33 224.77,390.87 226.47,409.50 228.18,412.22 229.89,404.43 231.60,396.26 233.31,404.05 235.02,403.24 236.73,397.51 238.44,398.87 240.15,395.64 241.86,393.99 243.57,397.62 245.27,393.34 246.98,392.42 248.69,388.57 250.40,392.69 252.11,391.45 253.82,392.60 255.53,397.86 257.24,396.81 258.95,397.62 260.66,396.65 262.37,399.33 264.07,402.87 265.78,403.21 267.49,405.88 269.20,409.83 270.91,409.78 272.62,409.32 274.33,413.96 276.04,418.55 277.75,410.53 279.46,409.33 281.17,407.76 282.87,406.38 284.58,406.06 286.29,403.38 288.00,401.79 289.71,402.32 291.42,401.32 293.13,398.87 294.84,398.77 296.55,399.67 298.26,399.30 299.97,394.50 301.67,394.61 303.38,393.61 305.09,392.78 306.80,387.66 308.51,391.01 310.22,387.37 311.93,373.80 313.64,363.63 315.35,361.91 317.06,342.25 318.77,334.35 320.47,336.00 322.18,341.75 323.89,352.78 325.60,339.95 327.31,316.02 329.02,314.39 330.73,313.80 332.44,292.50 334.15,279.94 335.86,294.07 337.57,295.06 339.27,308.58 340.98,279.38 342.69,285.38 344.40,283.79 346.11,293.67 347.82,290.69 349.53,283.33 351.24,276.09 352.95,275.82 354.66,285.68 356.37,279.89 358.08,285.82 359.78,310.73 361.49,312.39 363.20,309.35 364.91,319.19 366.62,301.21 368.33,304.32 370.04,317.87 371.75,318.73 373.46,311.71 375.17,316.69 376.88,322.41 378.58,320.19 380.29,327.06 382.00,342.69 383.71,349.02 385.42,328.83 387.13,325.47 388.84,326.86 390.55,325.39 392.26,332.68 393.97,338.14 395.68,339.14" stroke="#008fd5"/>
<polyline points="55.56,412.95 57.27,413.44 58.98,414.50 60.69,413.75 62.40,411.93 64.11,411.11 65.82,410.42 67.53,409.88 69.24,409.42 70.95,408.80 72.65,408.76 74.36,408.57 76.07,408.09 77.78,408.31 79.49,409.76 81.20,410.20 82.91,410.82 84.62,410.79 86.33,410.75 88.04,410.25 89.75,409.72 91.45,408.99 93.16,408.30 94.87,408.28 96.58,407.70 98.29,407.80 100.00,407.70 101.71,407.75 103.42,407.59 105.13,406.98 106.84,406.08 108.55,404.25 110.26,402.19 111.96,400.16 113.67,398.96 115.38,397.44 117.09,397.05 118.80,397.11 120.51,396.68 122.22,397.23 123.93,398.54 125.64,400.48 127.35,403.14 129.06,406.06 130.76,407.41 132.47,407.87 134.18,407.47 135.89,406.67 137.60,406.09 139.31,404.93 141.02,403.54 142.73,402.04 144.44,400.72 146.15,397.85 147.86,394.79 149.56,392.67 151.27,390.46 152.98,386.99 154.69,384.84 156.40,382.16 158.11,380.37 159.82,376.32 161.53,371.19 163.24,366.01 164.95,361.07 166.66,357.76 168.36,355.02 170.07,357.26 171.78,356.12 173.49,357.34 175.20,358.07 176.91,362.44 178.62,365.52 180.33,370.17 182.04,374.26 183.75,376.94 185.46,380.42 187.16,380.97 188.87,382.61 190.58,381.16 192.29,379.17 194.00,375.90 195.71,373.75 197.42,372.48 199.13,373.27 200.84,373.02 202.55,372.70 204.26,371.42 205.96,371.13 207.67,372.68 209.38,374.81 211.09,376.83 212.80,378.93 214.51,380.06 216.22,380.69 217.93,382.42 219.64,383.13 221.35,384.37 223.06,386.00 224.77,386.78 226.47,388.82 228.18,391.41 229.89,393.78 231.60,395.36 233.31,397.76 235.02,399.39 236.73,400.40 238.44,401.03 240.15,401.26 241.86,401.57 243.57,400.38 245.27,398.50 246.98,397.30 248.69,396.53 250.40,395.39 252.11,394.21 253.82,393.72 255.53,393.62 257.24,393.74 258.95,394.10 260.66,394.00 262.37,394.60 264.07,395.64 265.78,397.11 267.49,398.43 269.20,400.27 270.91,401.98 272.62,403.13 274.33,404.85 276.04,406.94 277.75,408.33 279.46,409.33 281.17,409.82 282.87,410.13 284.58,410.15 286.29,409.50 288.00,408.71 289.71,408.01 291.42,406.74 293.13,404.77 294.84,403.60 296.55,402.63 298.26,401.79 299.97,400.60 301.67,399.45 303.38,398.48 305.09,397.58 306.80,396.11 308.51,395.08 310.22,393.93 311.93,391.43 313.64,387.83 315.35,384.09 317.06,378.86 318.77,372.84 320.47,367.08 322.18,361.97 323.89,358.49 325.60,353.38 327.31,346.24 329.02,340.30 330.73,335.32 332.44,328.38 334.15,322.15 335.86,318.12 337.57,314.03 339.27,310.71 340.98,303.37 342.69,297.91 344.40,294.69 346.11,292.62 347.82,290.31 349.53,289.39 351.24,289.00 352.95,287.18 354.66,286.24 356.37,283.37 358.08,284.02 359.78,286.55 361.49,289.41 363.20,290.98 364.91,293.83 366.62,295.62 368.33,298.44 370.04,302.64 371.75,305.95 373.46,309.13 375.17,312.22 376.88,313.39 378.58,314.17 380.29,315.94 382.00,318.29 383.71,323.07 385.42,325.52 387.13,326.28 388.84,327.09 390.55,328.46 392.26,330.06 393.97,331.63 395.68,333.53" stroke="#fc4f30"/>
<polyline points="55.56,411.16 57.27,411.34 58.98,411.05 60.69,410.35 62.40,409.25 64.11,409.25 65.82,409.38 67.53,409.73 69.24,410.15 70.95,410.52 72.65,410.86 74.36,411.01 76.07,411.29 77.78,411.03 79.49,410.84 81.20,410.65 82.91,410.62 84.62,410.33 86.33,410.08 88.04,409.53 89.75,409.24 91.45,408.78 93.16,408.20 94.87,408.29 96.58,408.73 98.29,409.00 100.00,409.26 101.71,409.27 103.42,409.17 105.13,408.61 106.84,407.90 108.55,406.62 110.26,405.25 111.96,404.22 113.67,403.33 115.38,402.62 117.09,402.38 118.80,402.43 120.51,402.13 122.22,402.11 123.93,402.31 125.64,402.36 127.35,402.67 129.06,403.11 130.76,403.18 132.47,402.66 134.18,402.26 135.89,401.89 137.60,401.39 139.31,401.08 141.02,401.04 142.73,401.26 144.44,401.93 146.15,401.95 147.86,401.10 149.56,400.27 151.27,398.96 152.98,396.83 154.69,395.46 156.40,393.55 158.11,391.95 159.82,389.18 161.53,385.96 163.24,381.93 164.95,377.93 166.66,375.22 168.36,372.74 170.07,372.13 171.78,370.48 173.49,369.75 175.20,369.22 176.91,369.38 178.62,368.35 180.33,368.09 182.04,367.66 183.75,367.35 185.46,367.72 187.16,369.11 188.87,369.36 190.58,369.25 192.29,368.62 194.00,369.17 195.71,369.63 197.42,371.33 199.13,373.77 200.84,374.98 202.55,376.56 204.26,376.20 205.96,376.87 207.67,376.92 209.38,376.99 211.09,376.36 212.80,376.34 214.51,376.27 216.22,376.98 217.93,377.72 219.64,377.92 221.35,377.90 223.06,378.56 224.77,379.73 226.47,381.82 228.18,384.12 229.89,386.36 231.60,387.71 233.31,389.22 235.02,390.91 236.73,391.77 238.44,392.70 240.15,393.63 241.86,394.18 243.57,394.60 245.27,394.95 246.98,395.54 248.69,395.95 250.40,396.58 252.11,396.80 253.82,397.06 255.53,397.32 257.24,397.50 258.95,397.83 260.66,397.19 262.37,396.55 264.07,396.47 265.78,396.82 267.49,396.91 269.20,397.24 270.91,397.85 272.62,398.37 274.33,399.29 276.04,400.52 277.75,401.16 279.46,401.96 281.17,402.73 282.87,403.62 284.58,404.29 286.29,404.89 288.00,405.35 289.71,405.57 291.42,405.79 293.13,405.86 294.84,405.96 296.55,405.98 298.26,405.80 299.97,405.37 301.67,404.80 303.38,403.99 305.09,403.14 306.80,402.06 308.51,400.91 310.22,399.35 311.93,397.51 313.64,395.23 315.35,392.94 317.06,389.73 318.77,386.15 320.47,382.78 322.18,379.77 323.89,377.30 325.60,374.23 327.31,370.09 329.02,365.87 330.73,361.57 332.44,356.23 334.15,350.51 335.86,345.48 337.57,340.55 339.27,336.34 340.98,330.93 342.69,325.65 344.40,320.47 346.11,316.46 347.82,312.81 349.53,308.88 351.24,305.58 352.95,302.65 354.66,300.13 356.37,297.04 358.08,293.69 359.78,292.23 361.49,292.05 363.20,291.80 364.91,292.07 366.62,292.50 368.33,293.72 370.04,294.91 371.75,296.09 373.46,296.25 375.17,298.12 376.88,299.97 378.58,301.79 380.29,303.46 382.00,306.06 383.71,309.34 385.42,311.98 387.13,314.46 388.84,316.52 390.55,318.80 392.26,321.14 393.97,322.51 395.68,323.85" stroke="#e5ae38"/>
<polyline points="55.56,416.61 57.27,416.29 58.98,415.97 60.69,414.99 62.40,413.74 64.11,412.82 65.82,411.81 67.53,411.07 69.24,410.42 70.95,410.42 72.65,410.36 74.36,410.41 76.07,410.06 77.78,409.67 79.49,409.42 81.20,409.56 82.91,409.86 84.62,410.08 86.33,410.35 88.04,410.43 89.75,410.48 91.45,410.33 93.16,410.30 94.87,410.11 96.58,409.80 98.29,409.70 100.00,409.65 101.71,409.47 103.42,409.25 105.13,408.68 106.84,408.19 108.55,407.27 110.26,406.20 111.96,405.58 113.67,405.47 115.38,405.15 117.09,405.19 118.80,405.22 120.51,405.01 122.22,404.82 123.93,404.78 125.64,404.57 127.35,404.55 129.06,404.83 130.76,404.69 132.47,404.37 134.18,404.07 135.89,403.84 137.60,403.45 139.31,403.05 141.02,402.72 142.73,402.26 144.44,402.02 146.15,401.36 147.86,400.39 149.56,399.33 151.27,398.33 152.98,396.92 154.69,395.87 156.40,394.78 158.11,394.15 159.82,392.94 161.53,391.68 163.24,389.97 164.95,387.76 166.66,386.10 168.36,384.32 170.07,383.64 171.78,382.35 173.49,381.48 175.20,380.66 176.91,380.26 178.62,379.14 180.33,378.01 182.04,376.71 183.75,375.79 185.46,375.30 187.16,375.07 188.87,374.52 190.58,373.55 192.29,372.54 194.00,371.55 195.71,370.15 197.42,369.55 199.13,369.53 200.84,369.24 202.55,369.38 204.26,369.88 205.96,369.95 207.67,370.39 209.38,370.68 211.09,371.72 212.80,372.73 214.51,374.24 216.22,376.07 217.93,377.46 219.64,378.75 221.35,378.92 223.06,379.91 224.77,380.21 226.47,380.93 228.18,381.38 229.89,382.15 231.60,382.64 233.31,383.91 235.02,384.95 236.73,385.41 238.44,385.61 240.15,386.13 241.86,387.01 243.57,388.01 245.27,388.91 246.98,390.00 248.69,390.65 250.40,391.28 252.11,392.01 253.82,392.42 255.53,393.01 257.24,393.66 258.95,394.15 260.66,394.40 262.37,394.84 264.07,395.57 265.78,396.33 267.49,397.19 269.20,397.96 270.91,398.70 272.62,399.26 274.33,399.95 276.04,400.87 277.75,400.90 279.46,400.81 281.17,400.92 282.87,401.26 284.58,401.32 286.29,401.33 288.00,401.47 289.71,401.58 291.42,401.77 293.13,401.94 294.84,401.98 296.55,402.19 298.26,402.42 299.97,402.61 301.67,402.68 303.38,402.75 305.09,402.76 306.80,402.42 308.51,402.22 310.22,401.88 311.93,401.12 313.64,399.93 315.35,398.56 317.06,396.53 318.77,394.15 320.47,391.69 322.18,389.42 323.89,387.53 325.60,385.07 327.31,381.65 329.02,378.44 330.73,375.26 332.44,371.42 334.15,367.20 335.86,363.47 337.57,359.86 339.27,356.75 340.98,352.65 342.69,348.79 344.40,344.95 346.11,341.45 347.82,337.82 349.53,333.95 351.24,330.00 352.95,326.05 354.66,322.45 356.37,318.68 358.08,315.29 359.78,312.61 361.49,310.11 363.20,307.97 364.91,306.48 366.62,304.46 368.33,303.20 370.04,302.65 371.75,302.07 373.46,301.07 375.17,299.87 376.88,299.28 378.58,299.42 380.29,299.84 382.00,300.81 383.71,302.69 385.42,304.32 387.13,305.37 388.84,306.43 390.55,306.99 392.26,308.76 393.97,310.52 395.68,312.37" stroke="#6d904f"/>
<polyline points="55.56,424.92 57.27,423.75 58.98,422.65 60.69,421.16 62.40,419.59 64.11,418.45 65.82,417.27 67.53,416.28 69.24,415.38 70.95,415.02 72.65,414.65 74.36,414.36 76.07,414.00 77.78,413.32 79.49,412.74 81.20,412.16 82.91,411.57 84.62,411.00 86.33,410.50 88.04,410.37 89.75,410.20 91.45,410.06 93.16,409.62 94.87,409.32 96.58,408.99 98.29,409.12 100.00,409.32 101.71,409.50 103.42,409.66 105.13,409.57 106.84,409.38 108.55,408.81 110.26,408.27 111.96,407.63 113.67,407.09 115.38,406.64 117.09,406.50 118.80,406.38 120.51,406.11 122.22,405.82 123.93,405.77 125.64,405.57 127.35,405.43 129.06,405.70 130.76,405.96 132.47,405.83 134.18,405.76 135.89,405.58 137.60,405.28 139.31,404.85 141.02,404.47 142.73,403.94 144.44,403.59 146.15,403.09 147.86,402.21 149.56,401.45 151.27,400.67 152.98,399.63 154.69,398.80 156.40,397.83 158.11,397.13 159.82,395.77 161.53,394.31 163.24,392.52 164.95,390.56 166.66,388.94 168.36,387.50 170.07,387.01 171.78,385.93 173.49,385.42 175.20,385.13 176.91,385.32 178.62,385.14 180.33,385.02 182.04,384.38 183.75,383.81 185.46,383.34 187.16,382.97 188.87,382.41 190.58,381.40 192.29,380.29 194.00,379.17 195.71,377.79 197.42,376.63 199.13,375.85 200.84,375.10 202.55,374.65 204.26,374.16 205.96,373.67 207.67,373.34 209.38,373.10 211.09,372.87 212.80,372.35 214.51,372.18 216.22,372.32 217.93,372.54 219.64,372.82 221.35,373.51 223.06,373.96 224.77,374.49 226.47,375.22 228.18,376.64 229.89,377.99 231.60,379.52 233.31,381.50 235.02,382.94 236.73,384.17 238.44,384.45 240.15,385.25 241.86,385.55 243.57,385.80 245.27,385.66 246.98,385.94 248.69,386.11 250.40,386.78 252.11,387.26 253.82,387.49 255.53,387.61 257.24,388.03 258.95,388.78 260.66,389.50 262.37,390.33 264.07,391.41 265.78,392.27 267.49,393.07 269.20,394.07 270.91,394.81 272.62,395.54 274.33,396.46 276.04,397.35 277.75,397.88 279.46,398.46 281.17,399.13 282.87,399.78 284.58,400.43 286.29,400.84 288.00,401.20 289.71,401.45 291.42,401.65 293.13,401.85 294.84,401.58 296.55,401.26 298.26,401.14 299.97,401.09 301.67,400.86 303.38,400.61 305.09,400.50 306.80,400.22 308.51,400.10 310.22,399.93 311.93,399.34 313.64,398.60 315.35,397.83 317.06,396.68 318.77,395.22 320.47,393.83 322.18,392.56 323.89,391.43 325.60,390.01 327.31,387.97 329.02,385.91 330.73,383.78 332.44,381.02 334.15,377.94 335.86,375.14 337.57,372.27 339.27,369.74 340.98,366.49 342.69,363.28 344.40,359.91 346.11,356.99 347.82,354.02 349.53,350.91 351.24,347.65 352.95,344.40 354.66,341.45 356.37,338.41 358.08,335.49 359.78,333.23 361.49,331.07 363.20,328.83 364.91,326.82 366.62,324.37 368.33,322.11 370.04,320.20 371.75,318.32 373.46,316.30 375.17,314.52 376.88,312.81 378.58,311.13 380.29,309.96 382.00,309.44 383.71,309.11 385.42,308.78 387.13,308.56 388.84,308.33 390.55,307.92 392.26,307.42 393.97,307.37 395.68,307.95" stroke="#8b8b8b"/>
</g>
<rect x="503.9" y="454.8" width="91.3" height="136" rx="3.21" ry="3.65" fill="#f0f0f0" fill-opacity="0.8" stroke="#d8d8d8" stroke-opacity="0.75" stroke-width="1.1"/>
<rect x="508.2" y="465.68" width="29.3" height="6.64" fill="#008fd5"/>
<text x="548.62" y="475.14" font-size="18.32" text-anchor="start" textLength="13.14" lengthAdjust="spacingAndGlyphs">df</text>
<rect x="508.2" y="491.08" width="29.3" height="6.64" fill="#fc4f30"/>
<text x="548.62" y="501.74" font-size="18.32" text-anchor="start" textLength="13.14" lengthAdjust="spacingAndGlyphs">df</text>
<rect x="562.19" y="505.56" width="6.86" height="1.33" fill="#141414"/>
<text x="568.61" y="501.74" font-size="18.32" text-anchor="start" textLength="18.1" lengthAdjust="spacingAndGlyphs">10</text>
<rect x="508.2" y="517.38" width="29.3" height="6.64" fill="#e5ae38"/>
<text x="548.62" y="528.34" font-size="18.32" text-anchor="start" textLength="13.14" lengthAdjust="spacingAndGlyphs">df</text>
<rect x="562.19" y="532.16" width="6.86" height="1.33" fill="#141414"/>
<text x="569.19" y="528.34" font-size="18.32" text-anchor="start" textLength="18.1" lengthAdjust="spacingAndGlyphs">20</text>
<rect x="508.2" y="543.88" width="29.3" height="6.64" fill="#6d904f"/>
<text x="548.62" y="554.94" font-size="18.32" text-anchor="start" textLength="13.14" lengthAdjust="spacingAndGlyphs">df</text>
<rect x="562.19" y="558.76" width="6.86" height="1.33" fill="#141414"/>
<text x="569.19" y="554.94" font-size="18.32" text-anchor="start" textLength="18.1" lengthAdjust="spacingAndGlyphs">30</text>
<rect x="508.2" y="568.98" width="29.3" height="6.64" fill="#8b8b8b"/>
<text x="548.62" y="581.54" font-size="18.32" text-anchor="start" textLength="13.14" lengthAdjust="spacingAndGlyphs">df</text>
<rect x="562.19" y="585.36" width="6.86" height="1.33" fill="#141414"/>
<text x="569.19" y="581.54" font-size="18.32" text-anchor="start" textLength="18.1" lengthAdjust="spacingAndGlyphs">40</text>
<text x="110.1" y="738" font-size="19.08" text-anchor="middle" textLength="25.62" lengthAdjust="spacingAndGlyphs">175</text>
<text x="173.9" y="738" font-size="19.08" text-anchor="middle" textLength="25.62" lengthAdjust="spacingAndGlyphs">200</text>
<text x="236.2" y="738" font-size="19.08" text-anchor="middle" textLength="25.62" lengthAdjust="spacingAndGlyphs">225</text>
<text x="298.5" y="738" font-size="19.08" text-anchor="middle" textLength="25.62" lengthAdjust="spacingAndGlyphs">250</text>
<text x="361" y="738" font-size="19.08" text-anchor="middle" textLength="25.62" lengthAdjust="spacingAndGlyphs">275</text>
<text x="423.3" y="738" font-size="19.08" text-anchor="middle" textLength="25.62" lengthAdjust="spacingAndGlyphs">300</text>
<text x="485.6" y="738" font-size="19.08" text-anchor="middle" textLength="25.62" lengthAdjust="spacingAndGlyphs">325</text>
<text x="548.15" y="738" font-size="19.08" text-anchor="middle" textLength="25.62" lengthAdjust="spacingAndGlyphs">350</text>
<text x="50" y="711.15" font-size="19.08" text-anchor="end" textLength="20.42" lengthAdjust="spacingAndGlyphs">1.0</text>
<text x="50" y="649.45" font-size="19.08" text-anchor="end" textLength="20.42" lengthAdjust="spacingAndGlyphs">1.5</text>
<text x="50" y="586.55" font-size="19.08" text-anchor="end" textLength="20.42" lengthAdjust="spacingAndGlyphs">2.0</text>
<text x="50" y="524.95" font-size="19.08" text-anchor="end" textLength="20.42" lengthAdjust="spacingAndGlyphs">2.5</text>
<text x="50" y="463.45" font-size="19.08" text-anchor="end" textLength="20.42" lengthAdjust="spacingAndGlyphs">3.0</text>
<text x="328.85" y="437.4" font-size="23.99" text-anchor="middle" textLength="94.8" lengthAdjust="spacingAndGlyphs">ADA-USD</text>
<text x="329" y="763.8" font-size="20.58" text-anchor="middle" textLength="259.5" lengthAdjust="spacingAndGlyphs">Sep. 28, 2020 - Sep. 28, 2021</text>
<text transform="translate(15.98 585.2) rotate(-90)" style="stroke-width:.1px" font-size="17.12" text-anchor="middle" textLength="185.6" lengthAdjust="spacingAndGlyphs">Close Price USD($)</text>
<!-- DOGE-USD -->
<rect x="672.7" y="458" width="526.1" height="264.5" fill="#f0f0f0"/>
<path d="M726.05 462.78V717.72M785.7 462.78V717.72M845.55 462.78V717.72M905.4 462.78V717.72M965.55 462.78V717.72M1025.4 462.78V717.72M1085.3 462.78V717.72M1145.35 462.78V717.72" stroke="#cdcdcd" stroke-width="1.51" fill="none"/>
<path d="M676.6 691.5H1194.9M676.6 653.3H1194.9M676.6 616.5H1194.9M676.6 578.5H1194.9M676.6 541.7H1194.9M676.6 503.4H1194.9M676.6 466.4H1194.9" stroke="#cdcdcd" stroke-width="1.51" fill="none"/>
<clipPath id="c3"><rect x="484.48" y="290.58" width="371.14" height="160.08"/></clipPath>
<g transform="scale(1.3965 1.5926)" fill="none" stroke-width="4" stroke-linejoin="round" stroke-linecap="butt" clip-path="url(#c3)">
<polyline points="499.15,442.93 500.86,443.80 502.58,444.15 504.29,443.92 506.01,443.99 507.73,444.15 509.44,443.84 511.16,443.77 512.88,444.08 514.59,444.74 516.31,445.02 518.02,445.54 519.74,445.54 521.46,444.97 523.17,444.79 524.89,444.93 526.60,444.90 528.32,444.97 530.04,445.00 531.75,443.07 533.47,444.03 535.18,444.50 536.90,444.15 538.62,443.61 540.33,442.46 542.05,443.73 543.76,443.19 545.48,443.11 547.20,442.64 548.91,440.08 550.63,440.97 552.34,435.63 554.06,428.99 555.78,414.77 557.49,371.49 559.21,390.73 560.93,382.18 562.64,361.77 564.36,382.49 566.07,385.53 567.79,396.19 569.51,399.13 571.22,394.05 572.94,398.52 574.65,393.91 576.37,393.60 578.09,381.45 579.80,385.83 581.52,378.13 583.23,365.35 584.95,368.57 586.67,353.74 588.38,330.10 590.10,302.89 591.81,320.99 593.53,296.41 595.25,307.83 596.96,323.42 598.68,351.69 600.40,341.12 602.11,366.53 603.83,342.25 605.54,325.89 607.26,338.13 608.98,336.48 610.69,342.68 612.41,345.62 614.12,378.56 615.84,363.49 617.56,372.95 619.27,376.89 620.99,384.63 622.70,372.22 624.42,376.11 626.14,374.39 627.85,379.31 629.57,383.97 631.28,386.77 633.00,386.37 634.72,380.98 636.43,370.55 638.15,357.84 639.86,363.75 641.58,369.05 643.30,369.99 645.01,370.22 646.73,379.64 648.45,380.58 650.16,376.89 651.88,380.91 653.59,382.82 655.31,384.25 657.03,381.38 658.74,379.55 660.46,382.18 662.17,385.41 663.89,385.64 665.61,388.54 667.32,390.09 669.04,391.58 670.75,415.50 672.47,412.67 674.19,403.02 675.90,395.96 677.62,401.37 679.33,399.96 681.05,395.25 682.77,397.13 684.48,395.96 686.20,397.84 687.91,400.05 689.63,399.89 691.35,399.65 693.06,399.63 694.78,403.07 696.50,402.50 698.21,404.74 699.93,408.81 701.64,406.10 703.36,407.19 705.08,406.83 706.79,409.71 708.51,410.91 710.22,411.21 711.94,414.09 713.66,416.98 715.37,414.37 717.09,416.11 718.80,417.29 720.52,417.85 722.24,412.44 723.95,412.63 725.67,411.80 727.38,411.45 729.10,410.84 730.82,409.49 732.53,409.33 734.25,409.24 735.97,409.31 737.68,408.43 739.40,408.67 741.11,409.68 742.83,409.87 744.55,411.54 746.26,410.11 747.98,410.20 749.69,409.40 751.41,395.98 753.13,401.04 754.84,397.06 756.56,396.57 758.27,395.65 759.99,394.87 761.71,389.93 763.42,387.76 765.14,376.49 766.85,382.63 768.57,387.39 770.29,385.27 772.00,382.14 773.72,380.39 775.43,383.08 777.15,383.24 778.87,383.10 780.58,388.78 782.30,388.68 784.02,394.52 785.73,388.09 787.45,390.26 789.16,391.32 790.88,393.46 792.60,392.09 794.31,387.60 796.03,387.62 797.74,387.81 799.46,386.96 801.18,383.76 802.89,385.71 804.61,397.18 806.32,397.46 808.04,397.84 809.76,401.09 811.47,400.01 813.19,398.64 814.90,401.80 816.62,400.78 818.34,399.28 820.05,400.55 821.77,401.09 823.48,400.83 825.20,402.76 826.92,408.74 828.63,410.34 830.35,404.86 832.07,404.71 833.78,408.39 835.50,408.51 837.21,409.02 838.93,410.44 840.65,410.67" stroke="#008fd5"/>
<polyline points="499.15,444.66 500.86,444.45 502.58,444.27 504.29,444.10 506.01,443.96 507.73,444.06 509.44,444.04 511.16,443.97 512.88,443.92 514.59,443.94 516.31,444.15 518.02,444.32 519.74,444.46 521.46,444.57 523.17,444.65 524.89,444.72 526.60,444.83 528.32,444.95 530.04,445.04 531.75,444.87 533.47,444.77 535.18,444.67 536.90,444.53 538.62,444.40 540.33,444.16 542.05,444.04 543.76,443.87 545.48,443.68 547.20,443.45 548.91,443.15 550.63,442.84 552.34,441.96 554.06,440.44 555.78,437.56 557.49,430.46 559.21,425.16 560.93,419.06 562.64,410.93 564.36,404.91 566.07,399.45 567.79,394.98 569.51,391.33 571.22,387.83 572.94,386.21 574.65,388.45 576.37,388.74 578.09,388.66 579.80,391.07 581.52,390.64 583.23,388.62 584.95,385.86 586.67,381.32 588.38,374.92 590.10,365.36 591.81,358.07 593.53,348.35 595.25,340.99 596.96,334.74 598.68,332.10 600.40,329.68 602.11,329.47 603.83,328.32 605.54,327.90 607.26,331.43 608.98,332.98 610.69,337.60 612.41,341.38 614.12,346.90 615.84,348.07 617.56,351.26 619.27,352.29 620.99,356.53 622.70,361.17 624.42,364.96 626.14,368.75 627.85,372.42 629.57,376.25 631.28,377.07 633.00,379.36 634.72,380.17 636.43,379.53 638.15,376.85 639.86,376.00 641.58,375.30 643.30,374.86 645.01,373.95 646.73,373.52 648.45,372.90 650.16,371.95 651.88,371.94 653.59,373.17 655.31,375.81 657.03,377.57 658.74,378.62 660.46,379.84 662.17,381.36 663.89,381.96 665.61,382.76 667.32,384.08 669.04,385.14 670.75,388.41 672.47,391.25 674.19,393.42 675.90,395.06 677.62,396.98 679.33,398.43 681.05,399.39 682.77,400.25 684.48,400.84 686.20,401.47 687.91,399.92 689.63,398.64 691.35,398.31 693.06,398.67 694.78,398.84 696.50,399.10 698.21,400.05 699.93,401.21 701.64,402.23 703.36,403.16 705.08,403.84 706.79,404.82 708.51,405.95 710.22,407.11 711.94,408.21 713.66,409.66 715.37,410.62 717.09,411.35 718.80,412.47 720.52,413.53 722.24,414.09 723.95,414.39 725.67,414.48 727.38,414.50 729.10,414.17 730.82,413.43 732.53,412.92 734.25,412.23 735.97,411.44 737.68,410.49 739.40,410.12 741.11,409.82 742.83,409.63 744.55,409.64 746.26,409.57 747.98,409.64 749.69,409.64 751.41,408.32 753.13,407.49 754.84,406.36 756.56,405.15 758.27,403.74 759.99,402.24 761.71,400.08 763.42,397.85 765.14,394.48 766.85,391.80 768.57,390.94 770.29,389.36 772.00,387.87 773.72,386.25 775.43,384.99 777.15,383.83 778.87,383.15 780.58,383.25 782.30,384.47 784.02,385.66 785.73,385.73 787.45,386.23 789.16,387.15 790.88,388.45 792.60,389.35 794.31,389.79 796.03,390.24 797.74,390.15 799.46,389.97 801.18,388.90 802.89,388.66 804.61,389.35 806.32,389.97 808.04,390.40 809.76,391.30 811.47,392.54 813.19,393.65 814.90,395.05 816.62,396.43 818.34,397.98 820.05,399.46 821.77,399.85 823.48,400.19 825.20,400.68 826.92,401.45 828.63,402.48 830.35,403.10 832.07,403.39 833.78,404.15 835.50,405.08 837.21,405.92 838.93,406.86 840.65,407.84" stroke="#fc4f30"/>
<polyline points="499.15,445.17 500.86,445.11 502.58,444.99 504.29,444.97 506.01,444.88 507.73,444.80 509.44,444.70 511.16,444.57 512.88,444.49 514.59,444.44 516.31,444.40 518.02,444.39 519.74,444.36 521.46,444.33 523.17,444.30 524.89,444.39 526.60,444.43 528.32,444.46 530.04,444.48 531.75,444.41 533.47,444.46 535.18,444.50 536.90,444.50 538.62,444.48 540.33,444.40 542.05,444.38 543.76,444.35 545.48,444.32 547.20,444.25 548.91,444.01 550.63,443.81 552.34,443.31 554.06,442.49 555.78,440.98 557.49,437.31 559.21,434.60 560.93,431.47 562.64,427.31 564.36,424.18 566.07,421.30 567.79,418.91 569.51,416.64 571.22,414.14 572.94,411.88 574.65,409.46 576.37,406.95 578.09,403.86 579.80,401.00 581.52,397.77 583.23,394.04 584.95,390.42 586.67,386.32 588.38,381.38 590.10,375.78 591.81,373.26 593.53,368.54 595.25,364.83 596.96,362.91 598.68,361.37 600.40,359.15 602.11,357.66 603.83,354.82 605.54,351.41 607.26,348.39 608.98,345.52 610.69,342.97 612.41,341.18 614.12,340.82 615.84,340.09 617.56,340.47 619.27,340.88 620.99,342.43 622.70,344.53 624.42,348.19 626.14,350.86 627.85,355.01 629.57,358.82 631.28,361.98 633.00,363.72 634.72,365.71 636.43,365.91 638.15,366.69 639.86,368.59 641.58,370.13 643.30,371.81 645.01,373.18 646.73,374.88 648.45,374.99 650.16,375.66 651.88,376.05 653.59,376.35 655.31,376.33 657.03,376.79 658.74,376.96 660.46,377.35 662.17,377.66 663.89,377.74 665.61,377.83 667.32,378.01 669.04,378.54 670.75,380.79 672.47,383.53 674.19,385.50 675.90,386.84 677.62,388.41 679.33,389.90 681.05,390.68 682.77,391.51 684.48,392.46 686.20,393.31 687.91,394.17 689.63,394.95 691.35,395.86 693.06,396.87 694.78,397.91 696.50,398.77 698.21,399.72 699.93,400.73 701.64,401.53 703.36,402.31 705.08,401.88 706.79,401.73 708.51,402.13 710.22,402.89 711.94,403.53 713.66,404.38 715.37,405.33 717.09,406.28 718.80,407.35 720.52,408.35 722.24,408.97 723.95,409.60 725.67,410.21 727.38,410.80 729.10,411.19 730.82,411.54 732.53,411.77 734.25,411.79 735.97,411.95 737.68,412.01 739.40,412.11 741.11,412.11 742.83,412.05 744.55,412.07 746.26,411.87 747.98,411.53 749.69,411.28 751.41,410.28 753.13,409.46 754.84,408.43 756.56,407.63 758.27,406.78 759.99,405.94 761.71,404.86 763.42,403.71 765.14,402.06 766.85,400.72 768.57,399.63 770.29,398.43 772.00,397.11 773.72,395.70 775.43,394.37 777.15,393.04 778.87,391.61 780.58,390.55 782.30,389.47 784.02,388.73 785.73,388.33 787.45,387.79 789.16,387.51 790.88,387.35 792.60,387.17 794.31,386.81 796.03,386.70 797.74,386.70 799.46,387.22 801.18,387.28 802.89,387.19 804.61,387.79 806.32,388.56 808.04,389.43 809.76,390.33 811.47,391.17 813.19,391.94 814.90,392.60 816.62,393.20 818.34,393.44 820.05,394.06 821.77,394.60 823.48,395.08 825.20,395.54 826.92,396.38 828.63,397.51 830.35,398.37 832.07,399.22 833.78,400.29 835.50,401.53 837.21,402.69 838.93,403.36 840.65,404.02" stroke="#e5ae38"/>
<polyline points="499.15,444.75 500.86,444.84 502.58,444.91 504.29,444.94 506.01,444.93 507.73,444.90 509.44,444.83 511.16,444.83 512.88,444.81 514.59,444.81 516.31,444.83 518.02,444.84 519.74,444.81 521.46,444.83 523.17,444.80 524.89,444.77 526.60,444.74 528.32,444.70 530.04,444.67 531.75,444.58 533.47,444.53 535.18,444.48 536.90,444.42 538.62,444.35 540.33,444.26 542.05,444.27 543.76,444.25 545.48,444.20 547.20,444.14 548.91,443.99 550.63,443.92 552.34,443.65 554.06,443.14 555.78,442.17 557.49,439.76 559.21,437.98 560.93,435.92 562.64,433.19 564.36,431.13 566.07,429.16 567.79,427.53 569.51,425.99 571.22,424.27 572.94,422.72 574.65,421.02 576.37,419.31 578.09,417.20 579.80,415.23 581.52,413.00 583.23,410.41 584.95,407.89 586.67,404.87 588.38,401.07 590.10,396.37 591.81,392.33 593.53,387.42 595.25,382.90 596.96,378.91 598.68,375.88 600.40,372.58 602.11,370.10 603.83,366.99 605.54,363.55 607.26,361.00 608.98,359.83 610.69,358.23 612.41,357.01 614.12,357.57 615.84,356.94 617.56,356.52 619.27,355.87 620.99,355.39 622.70,354.66 624.42,353.92 626.14,353.27 627.85,352.79 629.57,352.87 631.28,352.90 633.00,353.18 634.72,353.70 636.43,353.77 638.15,353.90 639.86,355.02 641.58,357.23 643.30,358.86 645.01,361.32 646.73,363.72 648.45,365.62 650.16,366.46 651.88,367.79 653.59,368.33 655.31,369.73 657.03,371.58 658.74,372.96 660.46,374.48 662.17,375.91 663.89,377.24 665.61,377.58 667.32,378.46 669.04,379.08 670.75,380.37 672.47,381.31 674.19,382.33 675.90,382.99 677.62,383.89 679.33,384.58 681.05,384.96 682.77,385.30 684.48,385.62 686.20,386.18 687.91,387.17 689.63,388.57 691.35,389.77 693.06,390.79 694.78,391.89 696.50,392.96 698.21,393.80 699.93,394.74 701.64,395.72 703.36,396.59 705.08,397.39 706.79,398.24 708.51,399.22 710.22,400.28 711.94,401.34 713.66,402.40 715.37,403.35 717.09,404.27 718.80,405.18 720.52,406.05 722.24,405.95 723.95,405.95 725.67,406.24 727.38,406.76 729.10,407.08 730.82,407.39 732.53,407.86 734.25,408.27 735.97,408.71 737.68,409.06 739.40,409.35 741.11,409.68 742.83,410.02 744.55,410.42 746.26,410.65 747.98,410.91 749.69,411.06 751.41,410.63 753.13,410.47 754.84,410.13 756.56,409.79 758.27,409.32 759.99,408.78 761.71,408.07 763.42,407.20 765.14,405.85 766.85,404.79 768.57,403.83 770.29,402.76 772.00,401.57 773.72,400.50 775.43,399.52 777.15,398.57 778.87,397.62 780.58,396.89 782.30,396.19 784.02,395.70 785.73,395.00 787.45,394.36 789.16,393.79 790.88,393.28 792.60,392.70 794.31,391.95 796.03,391.16 797.74,390.41 799.46,389.64 801.18,388.78 802.89,388.44 804.61,388.31 806.32,388.33 808.04,388.37 809.76,388.55 811.47,388.72 813.19,389.01 814.90,389.48 816.62,390.29 818.34,390.84 820.05,391.28 821.77,391.81 823.48,392.43 825.20,393.18 826.92,394.04 828.63,394.94 830.35,395.66 832.07,396.19 833.78,396.85 835.50,397.32 837.21,398.02 838.93,398.69 840.65,399.33" stroke="#6d904f"/>
<polyline points="499.15,444.46 500.86,444.30 502.58,444.18 504.29,444.15 506.01,444.08 507.73,444.09 509.44,444.20 511.16,444.32 512.88,444.40 514.59,444.50 516.31,444.60 518.02,444.71 519.74,444.80 521.46,444.85 523.17,444.86 524.89,444.86 526.60,444.83 528.32,444.86 530.04,444.87 531.75,444.82 533.47,444.81 535.18,444.80 536.90,444.74 538.62,444.72 540.33,444.64 542.05,444.59 543.76,444.52 545.48,444.44 547.20,444.37 548.91,444.23 550.63,444.11 552.34,443.85 554.06,443.42 555.78,442.65 557.49,440.81 559.21,439.50 560.93,437.95 562.64,435.88 564.36,434.33 566.07,432.85 567.79,431.69 569.51,430.57 571.22,429.32 572.94,428.18 574.65,426.93 576.37,425.67 578.09,424.11 579.80,422.66 581.52,421.01 583.23,419.02 584.95,417.11 586.67,414.82 588.38,411.93 590.10,408.38 591.81,405.28 593.53,401.57 595.25,398.15 596.96,395.11 598.68,392.77 600.40,390.22 602.11,388.29 603.83,385.73 605.54,382.77 607.26,380.14 608.98,377.49 610.69,374.96 612.41,372.52 614.12,370.91 615.84,368.93 617.56,367.25 619.27,365.65 620.99,364.37 622.70,362.96 624.42,361.99 626.14,362.06 627.85,361.78 629.57,361.82 631.28,362.45 633.00,362.54 634.72,362.43 636.43,361.79 638.15,360.76 639.86,360.00 641.58,359.26 643.30,358.66 645.01,358.08 646.73,358.03 648.45,357.90 650.16,357.87 651.88,358.26 653.59,358.62 655.31,359.38 657.03,360.66 658.74,362.58 660.46,364.11 662.17,366.33 663.89,368.28 665.61,369.91 667.32,370.87 669.04,372.13 670.75,373.35 672.47,375.11 674.19,377.04 675.90,378.49 677.62,380.11 679.33,381.54 681.05,382.78 682.77,383.25 684.48,384.06 686.20,384.68 687.91,385.26 689.63,385.64 691.35,386.33 693.06,386.91 694.78,387.63 696.50,388.21 698.21,388.73 699.93,389.28 701.64,389.77 703.36,390.43 705.08,391.34 706.79,392.63 708.51,393.81 710.22,394.87 711.94,395.97 713.66,397.14 715.37,398.01 717.09,398.89 718.80,399.90 720.52,400.83 722.24,401.57 723.95,402.28 725.67,403.04 727.38,403.83 729.10,404.55 730.82,405.15 732.53,405.75 734.25,406.26 735.97,406.74 737.68,407.16 739.40,406.99 741.11,406.92 742.83,407.09 744.55,407.48 746.26,407.70 747.98,407.95 749.69,408.31 751.41,408.28 753.13,408.41 754.84,408.39 756.56,408.30 758.27,408.19 759.99,408.07 761.71,407.83 763.42,407.45 765.14,406.80 766.85,406.25 768.57,405.71 770.29,405.19 772.00,404.56 773.72,403.90 775.43,403.24 777.15,402.55 778.87,401.84 780.58,401.21 782.30,400.50 784.02,400.01 785.73,399.31 787.45,398.63 789.16,397.97 790.88,397.49 792.60,396.98 794.31,396.37 796.03,395.78 797.74,395.20 799.46,394.64 801.18,394.00 802.89,393.41 804.61,393.11 806.32,392.83 808.04,392.56 809.76,392.35 811.47,392.10 813.19,391.78 814.90,391.57 816.62,391.34 818.34,391.08 820.05,391.20 821.77,391.20 823.48,391.29 825.20,391.45 826.92,391.77 828.63,392.16 830.35,392.53 832.07,392.96 833.78,393.76 835.50,394.40 837.21,394.94 838.93,395.57 840.65,396.29" stroke="#8b8b8b"/>
</g>
<rect x="1102.9" y="468.7" width="86.5" height="129.7" rx="3.07" ry="3.5" fill="#f0f0f0" fill-opacity="0.8" stroke="#d8d8d8" stroke-opacity="0.75" stroke-width="1.1"/>
<rect x="1106.9" y="478.71" width="28" height="6.37" fill="#008fd5"/>
<text x="1145.44" y="487.79" font-size="17.58" text-anchor="start" textLength="12.57" lengthAdjust="spacingAndGlyphs">df</text>
<rect x="1106.9" y="502.91" width="28" height="6.37" fill="#fc4f30"/>
<text x="1145.44" y="513.32" font-size="17.58" text-anchor="start" textLength="12.57" lengthAdjust="spacingAndGlyphs">df</text>
<rect x="1158.43" y="516.99" width="6.56" height="1.27" fill="#141414"/>
<text x="1164.57" y="513.32" font-size="17.58" text-anchor="start" textLength="17.32" lengthAdjust="spacingAndGlyphs">10</text>
<rect x="1106.9" y="528.41" width="28" height="6.37" fill="#e5ae38"/>
<text x="1145.44" y="538.85" font-size="17.58" text-anchor="start" textLength="12.57" lengthAdjust="spacingAndGlyphs">df</text>
<rect x="1158.43" y="542.51" width="6.56" height="1.27" fill="#141414"/>
<text x="1165.13" y="538.85" font-size="17.58" text-anchor="start" textLength="17.32" lengthAdjust="spacingAndGlyphs">20</text>
<rect x="1106.9" y="554.01" width="28" height="6.37" fill="#6d904f"/>
<text x="1145.44" y="564.38" font-size="17.58" text-anchor="start" textLength="12.57" lengthAdjust="spacingAndGlyphs">df</text>
<rect x="1158.43" y="568.04" width="6.56" height="1.27" fill="#141414"/>
<text x="1165.13" y="564.38" font-size="17.58" text-anchor="start" textLength="17.32" lengthAdjust="spacingAndGlyphs">30</text>
<rect x="1106.9" y="577.81" width="28" height="6.37" fill="#8b8b8b"/>
<text x="1145.44" y="589.91" font-size="17.58" text-anchor="start" textLength="12.57" lengthAdjust="spacingAndGlyphs">df</text>
<rect x="1158.43" y="593.57" width="6.56" height="1.27" fill="#141414"/>
<text x="1165.13" y="589.91" font-size="17.58" text-anchor="start" textLength="17.32" lengthAdjust="spacingAndGlyphs">40</text>
<text x="724.55" y="740.7" font-size="18.31" text-anchor="middle" textLength="24.51" lengthAdjust="spacingAndGlyphs">175</text>
<text x="785.7" y="740.7" font-size="18.31" text-anchor="middle" textLength="24.51" lengthAdjust="spacingAndGlyphs">200</text>
<text x="845.55" y="740.7" font-size="18.31" text-anchor="middle" textLength="24.51" lengthAdjust="spacingAndGlyphs">225</text>
<text x="905.4" y="740.7" font-size="18.31" text-anchor="middle" textLength="24.51" lengthAdjust="spacingAndGlyphs">250</text>
<text x="965.55" y="740.7" font-size="18.31" text-anchor="middle" textLength="24.51" lengthAdjust="spacingAndGlyphs">275</text>
<text x="1025.4" y="740.7" font-size="18.31" text-anchor="middle" textLength="24.51" lengthAdjust="spacingAndGlyphs">300</text>
<text x="1085.3" y="740.7" font-size="18.31" text-anchor="middle" textLength="24.51" lengthAdjust="spacingAndGlyphs">325</text>
<text x="1145.35" y="740.7" font-size="18.31" text-anchor="middle" textLength="24.51" lengthAdjust="spacingAndGlyphs">350</text>
<text x="667.5" y="699.39" font-size="18.31" text-anchor="end" textLength="19.54" lengthAdjust="spacingAndGlyphs">0.1</text>
<text x="667.5" y="661.19" font-size="18.31" text-anchor="end" textLength="19.54" lengthAdjust="spacingAndGlyphs">0.2</text>
<text x="667.5" y="624.39" font-size="18.31" text-anchor="end" textLength="19.54" lengthAdjust="spacingAndGlyphs">0.3</text>
<text x="667.5" y="586.39" font-size="18.31" text-anchor="end" textLength="19.54" lengthAdjust="spacingAndGlyphs">0.4</text>
<text x="667.5" y="549.59" font-size="18.31" text-anchor="end" textLength="19.54" lengthAdjust="spacingAndGlyphs">0.5</text>
<text x="667.5" y="511.29" font-size="18.31" text-anchor="end" textLength="19.54" lengthAdjust="spacingAndGlyphs">0.6</text>
<text x="667.5" y="474.29" font-size="18.31" text-anchor="end" textLength="19.54" lengthAdjust="spacingAndGlyphs">0.7</text>
<text x="935.12" y="451.3" font-size="22.14" text-anchor="middle" textLength="106.75" lengthAdjust="spacingAndGlyphs">DOGE-USD</text>
<text x="934.88" y="765" font-size="19.75" text-anchor="middle" textLength="248.75" lengthAdjust="spacingAndGlyphs">Sep. 28, 2020 - Sep. 28, 2021</text>
<text transform="translate(634.36 593.95) rotate(-90)" style="stroke-width:.1px" font-size="16.38" text-anchor="middle" textLength="178.9" lengthAdjust="spacingAndGlyphs">Close Price USD($)</text>
<!-- ETH-USD -->
<rect x="65.65" y="824.5" width="527.25" height="262.6" fill="#f0f0f0"/>
<path d="M120.5 829.24V1082.36M180.4 829.24V1082.36M238.9 829.24V1082.36M298.5 829.24V1082.36M358.6 829.24V1082.36M418.4 829.24V1082.36M478.3 829.24V1082.36M538.15 829.24V1082.36" stroke="#cdcdcd" stroke-width="1.51" fill="none"/>
<path d="M69.55 1081.5H589M69.55 1035.55H589M69.55 991.05H589M69.55 945.1H589M69.55 899.2H589M69.55 853.5H589" stroke="#cdcdcd" stroke-width="1.5" fill="none"/>
<clipPath id="c4"><rect x="49.7" y="524.45" width="371.14" height="160.08"/></clipPath>
<g transform="scale(1.3996 1.5812)" fill="none" stroke-width="4" stroke-linejoin="round" stroke-linecap="butt" clip-path="url(#c4)">
<polyline points="64.88,658.97 66.59,663.00 68.29,666.63 70.00,665.77 71.71,664.79 73.41,667.15 75.12,665.13 76.82,665.42 78.53,666.81 80.23,672.40 81.94,673.15 83.64,678.05 85.35,677.93 87.05,671.76 88.76,670.96 90.46,672.40 92.17,665.02 93.87,663.46 95.58,659.31 97.28,655.91 98.99,646.34 100.69,652.97 102.40,649.22 104.10,648.42 105.81,647.78 107.51,656.26 109.22,649.51 110.92,650.43 112.63,646.80 114.33,645.53 116.04,646.57 117.74,637.35 119.45,629.51 121.15,624.67 122.86,629.74 124.56,634.76 126.27,640.92 127.97,645.02 129.68,635.56 131.38,633.60 133.09,631.35 134.80,633.66 136.50,642.42 138.21,636.37 139.91,623.80 141.62,616.43 143.32,611.58 145.03,611.01 146.73,610.03 148.44,600.11 150.14,599.71 151.85,572.10 153.55,582.36 155.26,566.85 156.96,568.70 158.67,569.04 160.37,544.95 162.08,543.45 163.78,542.07 165.49,529.62 167.19,551.69 168.90,555.73 170.60,534.75 172.31,560.17 174.01,563.11 175.72,580.69 177.42,575.04 179.13,628.07 180.83,609.39 182.54,629.80 184.24,637.58 185.95,648.30 187.65,617.52 189.36,613.89 191.06,603.40 192.77,612.16 194.47,630.43 196.18,638.50 197.89,632.10 199.59,613.43 201.30,618.10 203.00,613.89 204.71,605.30 206.41,614.93 208.12,618.27 209.82,613.37 211.53,620.58 213.23,624.78 214.94,619.54 216.64,627.44 218.35,634.24 220.05,633.14 221.76,625.30 223.46,623.63 225.17,619.42 226.87,633.43 228.58,633.14 230.28,641.27 231.99,644.32 233.69,640.40 235.40,661.04 237.10,661.85 238.81,655.22 240.51,655.28 242.22,665.36 243.92,664.44 245.63,655.85 247.33,650.03 249.04,645.36 250.74,638.79 252.45,648.07 254.15,645.94 255.86,641.56 257.57,636.08 259.27,643.17 260.98,635.91 262.68,636.43 264.39,647.67 266.09,646.17 267.80,648.19 269.50,646.57 271.21,652.51 272.91,658.04 274.62,654.93 276.32,659.72 278.03,661.50 279.73,660.46 281.44,660.64 283.14,665.13 284.85,666.86 286.55,655.16 288.26,653.14 289.96,647.44 291.67,643.69 293.37,643.58 295.08,641.15 296.78,637.41 298.49,637.52 300.19,632.68 301.90,627.72 303.60,623.69 305.31,622.25 307.01,619.42 308.72,625.65 310.42,612.85 312.13,606.91 313.83,603.28 315.54,587.89 317.24,596.19 318.95,587.32 320.66,588.81 322.36,587.49 324.07,594.46 325.77,578.38 327.48,581.67 329.18,579.07 330.89,587.95 332.59,596.14 334.30,595.79 336.00,586.45 337.71,580.46 339.41,583.91 341.12,582.99 342.82,578.55 344.53,587.03 346.23,584.03 347.94,591.18 349.64,581.38 351.35,582.88 353.05,583.86 354.76,584.03 356.46,571.98 358.17,548.87 359.87,551.40 361.58,542.76 363.28,545.81 364.99,542.07 366.69,543.45 368.40,572.39 370.10,568.29 371.81,572.33 373.51,584.78 375.22,581.38 376.92,573.31 378.63,580.51 380.33,572.21 382.04,561.49 383.75,564.03 385.45,574.00 387.16,572.04 388.86,577.98 390.57,599.36 392.27,610.55 393.98,592.50 395.68,588.01 397.39,600.92 399.09,601.27 400.80,593.37 402.50,600.75 404.21,601.67" stroke="#008fd5"/>
<polyline points="64.88,669.15 66.59,667.34 68.29,665.85 70.00,664.98 71.71,664.40 73.41,664.70 75.12,665.00 76.82,664.92 78.53,665.14 80.23,665.61 81.94,667.02 83.64,668.53 85.35,669.66 87.05,670.26 88.76,670.87 90.46,671.40 92.17,671.39 93.87,671.19 95.58,670.44 97.28,668.79 98.99,666.11 100.69,663.61 102.40,660.74 104.10,658.40 105.81,656.08 107.51,654.47 109.22,652.92 110.92,651.62 112.63,650.37 114.33,649.33 116.04,649.35 117.74,647.79 119.45,645.82 121.15,643.44 122.86,641.64 124.56,639.49 126.27,638.63 127.97,638.09 129.68,636.96 131.38,635.77 133.09,634.25 134.80,633.88 136.50,635.17 138.21,636.34 139.91,635.75 141.62,633.91 143.32,630.98 145.03,627.58 146.73,625.03 148.44,621.68 150.14,618.51 151.85,612.36 153.55,606.35 155.26,599.40 156.96,593.89 158.67,589.15 160.37,582.49 162.08,575.73 163.78,568.93 165.49,561.88 167.19,557.08 168.90,555.44 170.60,550.68 172.31,550.02 174.01,549.46 175.72,550.62 177.42,553.63 179.13,562.09 180.83,568.82 182.54,578.84 184.24,587.43 185.95,596.69 187.65,604.97 189.36,610.34 191.06,614.37 192.77,617.51 194.47,623.05 196.18,624.10 197.89,626.37 199.59,624.73 201.30,622.78 203.00,619.34 204.71,618.12 206.41,618.22 208.12,619.71 209.82,619.83 211.53,618.85 213.23,617.47 214.94,616.22 216.64,617.62 218.35,619.23 220.05,621.16 221.76,623.16 223.46,624.03 225.17,624.14 226.87,626.15 228.58,627.41 230.28,629.05 231.99,631.53 233.69,632.83 235.40,635.51 237.10,638.38 238.81,641.37 240.51,644.54 242.22,649.13 243.92,652.23 245.63,654.50 247.33,655.38 249.04,655.48 250.74,655.32 252.45,654.03 254.15,652.43 255.86,651.07 257.57,649.15 259.27,646.93 260.98,644.08 262.68,642.13 264.39,641.90 266.09,641.98 267.80,642.92 269.50,642.77 271.21,643.43 272.91,645.07 274.62,646.96 276.32,648.61 278.03,651.17 279.73,653.58 281.44,654.87 283.14,656.77 284.85,658.64 286.55,659.50 288.26,659.56 289.96,658.50 291.67,657.37 293.37,655.76 295.08,653.73 296.78,651.42 298.49,649.11 300.19,645.86 301.90,641.95 303.60,638.80 305.31,635.71 307.01,632.91 308.72,631.11 310.42,628.03 312.13,624.61 313.83,621.20 315.54,616.24 317.24,612.59 318.95,608.55 320.66,605.06 322.36,601.58 324.07,599.09 325.77,594.36 327.48,591.24 329.18,588.46 330.89,586.92 332.59,587.75 334.30,587.71 336.00,587.62 337.71,586.79 339.41,586.43 341.12,585.28 342.82,585.30 344.53,585.83 346.23,586.33 347.94,586.65 349.64,585.18 351.35,583.89 353.05,583.63 354.76,583.98 356.46,582.79 358.17,579.38 359.87,576.66 361.58,572.24 363.28,568.41 364.99,563.50 366.69,559.71 368.40,558.66 370.10,557.11 371.81,555.93 373.51,557.21 375.22,560.47 376.92,562.66 378.63,566.43 380.33,569.07 382.04,571.01 383.75,573.07 385.45,573.23 387.16,573.61 388.86,574.17 390.57,575.63 392.27,578.55 393.98,580.47 395.68,581.22 397.39,584.09 399.09,588.07 400.80,591.00 402.50,593.67 404.21,596.64" stroke="#fc4f30"/>
<polyline points="64.88,675.11 66.59,674.90 68.29,674.26 70.00,673.75 71.71,672.74 73.41,671.77 75.12,670.74 76.82,669.60 78.53,668.96 80.23,668.38 81.94,668.08 83.64,667.93 85.35,667.76 87.05,667.62 88.76,667.64 90.46,668.05 92.17,668.19 93.87,668.06 95.58,667.79 97.28,667.20 98.99,666.57 100.69,666.07 102.40,665.20 104.10,664.33 105.81,663.48 107.51,662.93 109.22,662.15 110.92,661.40 112.63,660.40 114.33,659.06 116.04,657.73 117.74,655.70 119.45,653.28 121.15,650.92 122.86,648.86 124.56,646.98 126.27,645.77 127.97,644.85 129.68,643.66 131.38,642.55 133.09,641.80 134.80,640.83 136.50,640.49 138.21,639.89 139.91,638.69 141.62,636.70 143.32,634.80 145.03,632.83 146.73,630.99 148.44,628.72 150.14,626.38 151.85,623.12 153.55,620.76 155.26,617.87 156.96,614.82 158.67,611.53 160.37,606.73 162.08,601.65 163.78,596.98 165.49,591.78 167.19,587.80 168.90,583.90 170.60,578.52 172.31,574.71 174.01,571.67 175.72,569.88 177.42,568.06 179.13,568.91 180.83,568.88 182.54,570.36 184.24,572.26 185.95,576.07 187.65,577.82 189.36,580.18 191.06,581.91 192.77,584.07 194.47,588.34 196.18,593.09 197.89,597.60 199.59,601.79 201.30,605.11 203.00,608.02 204.71,611.54 206.41,614.28 208.12,617.04 209.82,618.67 211.53,620.95 213.23,620.79 214.94,621.29 216.64,621.18 218.35,621.01 220.05,620.25 221.76,620.64 223.46,621.13 225.17,621.93 226.87,622.99 228.58,623.13 230.28,623.26 231.99,623.88 233.69,625.22 235.40,627.37 237.10,629.77 238.81,632.27 240.51,634.28 242.22,636.64 243.92,639.19 245.63,640.96 247.33,642.22 249.04,643.51 250.74,644.08 252.45,644.77 254.15,645.41 255.86,646.22 257.57,646.84 259.27,648.03 260.98,648.15 262.68,648.32 264.39,648.64 266.09,648.73 267.80,649.12 269.50,648.40 271.21,647.93 272.91,648.07 274.62,648.05 276.32,647.77 278.03,647.62 279.73,647.86 281.44,648.39 283.14,649.37 284.85,650.78 286.55,651.13 288.26,651.49 289.96,651.79 291.67,652.17 293.37,652.19 295.08,652.45 296.78,652.50 298.49,651.99 300.19,651.32 301.90,650.29 303.60,649.15 305.31,647.64 307.01,645.70 308.72,644.24 310.42,641.90 312.13,639.17 313.83,636.31 315.54,632.67 317.24,629.22 318.95,625.25 320.66,621.93 322.36,618.65 324.07,616.00 325.77,612.73 327.48,609.64 329.18,606.53 330.89,604.06 332.59,601.99 334.30,600.15 336.00,598.08 337.71,595.92 339.41,594.01 341.12,592.18 342.82,589.83 344.53,588.54 346.23,587.39 347.94,586.79 349.64,586.46 351.35,585.80 353.05,585.62 354.76,585.38 356.46,584.61 358.17,582.33 359.87,580.98 361.58,579.04 363.28,577.37 364.99,575.08 366.69,572.44 368.40,571.27 370.10,570.37 371.81,569.96 373.51,570.00 375.22,569.92 376.92,569.66 378.63,569.33 380.33,568.74 382.04,567.26 383.75,566.39 385.45,565.95 387.16,565.36 388.86,565.05 390.57,566.42 392.27,569.51 393.98,571.56 395.68,573.82 397.39,576.58 399.09,579.54 400.80,582.04 402.50,583.45 404.21,585.12" stroke="#e5ae38"/>
<polyline points="64.88,670.92 66.59,670.90 68.29,670.94 70.00,670.94 71.71,670.86 73.41,670.85 75.12,670.91 76.82,671.15 78.53,671.48 80.23,671.92 81.94,672.42 83.64,672.78 85.35,672.73 87.05,672.58 88.76,672.12 90.46,671.65 92.17,670.96 93.87,670.13 95.58,669.45 97.28,668.52 98.99,667.43 100.69,666.49 102.40,665.42 104.10,664.55 105.81,663.79 107.51,663.52 109.22,663.10 110.92,662.58 112.63,661.98 114.33,661.24 116.04,660.83 117.74,659.97 119.45,658.74 121.15,657.37 122.86,656.20 124.56,655.12 126.27,654.31 127.97,653.63 129.68,652.59 131.38,651.30 133.09,649.90 134.80,648.42 136.50,647.24 138.21,646.06 139.91,644.49 141.62,642.62 143.32,640.84 145.03,639.09 146.73,637.45 148.44,635.59 150.14,634.04 151.85,631.34 153.55,629.11 155.26,626.39 156.96,623.76 158.67,620.85 160.37,617.36 162.08,613.80 163.78,610.31 165.49,606.44 167.19,603.28 168.90,600.56 170.60,597.40 172.31,595.25 174.01,593.03 175.72,591.23 177.42,589.03 179.13,588.47 180.83,587.59 182.54,587.47 184.24,587.67 185.95,588.16 187.65,587.33 189.36,586.58 191.06,585.90 192.77,585.76 194.47,586.39 196.18,587.31 197.89,588.04 199.59,588.49 201.30,589.10 203.00,590.49 204.71,591.26 206.41,592.86 208.12,594.51 209.82,595.99 211.53,598.51 213.23,601.22 214.94,603.80 216.64,607.06 218.35,609.82 220.05,612.40 221.76,615.41 223.46,617.53 225.17,619.41 226.87,621.17 228.58,623.10 230.28,623.54 231.99,624.71 233.69,625.06 235.40,625.84 237.10,626.29 238.81,627.55 240.51,628.93 242.22,631.00 243.92,632.74 245.63,633.59 247.33,633.97 249.04,634.41 250.74,635.26 252.45,636.26 254.15,637.32 255.86,638.53 257.57,639.24 259.27,640.07 260.98,640.82 262.68,641.35 264.39,642.11 266.09,643.00 267.80,643.69 269.50,644.10 271.21,644.75 272.91,645.84 274.62,646.88 276.32,648.22 278.03,649.16 279.73,650.07 281.44,650.72 283.14,651.41 284.85,652.29 286.55,652.10 288.26,651.81 289.96,651.55 291.67,651.16 293.37,650.43 295.08,649.66 296.78,649.04 298.49,648.63 300.19,648.20 301.90,647.83 303.60,647.02 305.31,646.23 307.01,645.49 308.72,645.15 310.42,644.14 312.13,643.17 313.83,642.06 315.54,640.07 317.24,638.41 318.95,636.38 320.66,634.45 322.36,632.28 324.07,630.17 325.77,627.61 327.48,625.01 329.18,622.26 330.89,619.85 332.59,617.70 334.30,615.39 336.00,612.71 337.71,610.22 339.41,607.91 341.12,605.76 342.82,603.59 344.53,601.70 346.23,599.80 347.94,598.26 349.64,596.39 351.35,594.73 353.05,593.26 354.76,591.94 356.46,590.27 358.17,587.92 359.87,585.44 361.58,583.10 363.28,581.07 364.99,579.03 366.69,577.55 368.40,576.75 370.10,576.12 371.81,575.57 373.51,575.48 375.22,575.04 376.92,574.87 378.63,574.83 380.33,574.61 382.04,573.72 383.75,572.65 385.45,571.93 387.16,571.45 388.86,571.36 390.57,571.88 392.27,572.80 393.98,573.26 395.68,573.30 397.39,573.86 399.09,574.19 400.80,574.59 402.50,575.19 404.21,575.78" stroke="#6d904f"/>
<polyline points="64.88,671.42 66.59,670.93 68.29,670.74 70.00,670.44 71.71,670.29 73.41,670.13 75.12,669.84 76.82,669.75 78.53,669.72 80.23,669.79 81.94,669.95 83.64,670.31 85.35,670.62 87.05,670.77 88.76,670.86 90.46,670.99 92.17,671.03 93.87,671.16 95.58,671.22 97.28,671.14 98.99,670.84 100.69,670.48 102.40,669.73 104.10,669.04 105.81,668.11 107.51,667.35 109.22,666.45 110.92,665.50 112.63,664.68 114.33,663.72 116.04,662.91 117.74,661.82 119.45,660.52 121.15,659.27 122.86,658.25 124.56,657.51 126.27,656.98 127.97,656.45 129.68,655.73 131.38,654.87 133.09,654.18 134.80,653.45 136.50,652.85 138.21,652.11 139.91,651.09 141.62,649.82 143.32,648.48 145.03,647.12 146.73,645.70 148.44,643.89 150.14,642.06 151.85,639.41 153.55,637.02 155.26,634.40 156.96,631.84 158.67,629.26 160.37,626.25 162.08,623.25 163.78,620.32 165.49,617.16 167.19,614.80 168.90,612.37 170.60,609.51 172.31,607.30 174.01,605.18 175.72,603.29 177.42,601.43 179.13,600.87 180.83,599.94 182.54,599.54 184.24,599.32 185.95,599.59 187.65,599.29 189.36,599.02 191.06,598.36 192.77,597.80 194.47,597.54 196.18,597.37 197.89,597.29 199.59,596.78 201.30,596.45 203.00,595.96 204.71,595.03 206.41,594.49 208.12,594.36 209.82,594.28 211.53,594.50 213.23,594.85 214.94,595.09 216.64,595.77 218.35,596.63 220.05,598.16 221.76,599.23 223.46,600.65 225.17,601.92 226.87,603.53 228.58,605.73 230.28,608.18 231.99,610.74 233.69,613.51 235.40,616.24 237.10,618.89 238.81,621.90 240.51,624.28 242.22,626.84 243.92,628.93 245.63,630.95 247.33,631.50 249.04,632.40 250.74,632.63 252.45,632.89 254.15,632.83 255.86,633.43 257.57,633.98 259.27,634.98 260.98,635.57 262.68,635.72 264.39,635.95 266.09,636.30 267.80,637.17 269.50,637.88 271.21,638.85 272.91,640.17 274.62,641.17 276.32,642.20 278.03,643.41 279.73,644.41 281.44,645.30 283.14,646.44 284.85,647.43 286.55,647.95 288.26,648.45 289.96,649.00 291.67,649.51 293.37,650.11 295.08,650.30 296.78,650.41 298.49,650.31 300.19,650.02 301.90,649.71 303.60,648.77 305.31,647.78 307.01,646.89 308.72,646.15 310.42,644.83 312.13,643.40 313.83,642.08 315.54,640.53 317.24,639.30 318.95,638.01 320.66,636.53 322.36,635.07 324.07,633.89 325.77,632.45 327.48,630.91 329.18,629.49 330.89,628.28 332.59,626.99 334.30,625.73 336.00,624.19 337.71,622.54 339.41,620.82 341.12,618.94 342.82,617.03 344.53,615.22 346.23,613.28 347.94,611.55 349.64,609.57 351.35,607.51 353.05,605.44 354.76,603.66 356.46,601.63 358.17,599.16 359.87,596.86 361.58,594.34 363.28,591.95 364.99,589.57 366.69,587.22 368.40,585.71 370.10,584.22 371.81,582.94 373.51,582.00 375.22,581.05 376.92,579.74 378.63,578.94 380.33,578.07 382.04,577.02 383.75,576.43 385.45,575.87 387.16,575.49 388.86,575.22 390.57,575.52 392.27,575.92 393.98,576.27 395.68,576.43 397.39,576.98 399.09,577.31 400.80,577.24 402.50,577.36 404.21,577.74" stroke="#8b8b8b"/>
</g>
<rect x="495.5" y="834.25" width="88.25" height="129.5" rx="3.08" ry="3.48" fill="#f0f0f0" fill-opacity="0.8" stroke="#d8d8d8" stroke-opacity="0.75" stroke-width="1.1"/>
<rect x="500" y="844.84" width="27.5" height="6.32" fill="#008fd5"/>
<text x="539.44" y="853.85" font-size="17.46" text-anchor="start" textLength="12.6" lengthAdjust="spacingAndGlyphs">df</text>
<rect x="500" y="868.59" width="27.5" height="6.32" fill="#fc4f30"/>
<text x="539.44" y="879.2" font-size="17.46" text-anchor="start" textLength="12.6" lengthAdjust="spacingAndGlyphs">df</text>
<rect x="552.46" y="882.83" width="6.58" height="1.26" fill="#141414"/>
<text x="558.61" y="879.2" font-size="17.46" text-anchor="start" textLength="17.35" lengthAdjust="spacingAndGlyphs">10</text>
<rect x="500" y="893.84" width="27.5" height="6.32" fill="#e5ae38"/>
<text x="539.44" y="904.54" font-size="17.46" text-anchor="start" textLength="12.6" lengthAdjust="spacingAndGlyphs">df</text>
<rect x="552.46" y="908.18" width="6.58" height="1.26" fill="#141414"/>
<text x="559.17" y="904.54" font-size="17.46" text-anchor="start" textLength="17.35" lengthAdjust="spacingAndGlyphs">20</text>
<rect x="500" y="919.34" width="27.5" height="6.32" fill="#6d904f"/>
<text x="539.44" y="929.89" font-size="17.46" text-anchor="start" textLength="12.6" lengthAdjust="spacingAndGlyphs">df</text>
<rect x="552.46" y="933.53" width="6.58" height="1.26" fill="#141414"/>
<text x="559.17" y="929.89" font-size="17.46" text-anchor="start" textLength="17.35" lengthAdjust="spacingAndGlyphs">30</text>
<rect x="500" y="943.09" width="27.5" height="6.32" fill="#8b8b8b"/>
<text x="539.44" y="955.23" font-size="17.46" text-anchor="start" textLength="12.6" lengthAdjust="spacingAndGlyphs">df</text>
<rect x="552.46" y="958.87" width="6.58" height="1.26" fill="#141414"/>
<text x="559.17" y="955.23" font-size="17.46" text-anchor="start" textLength="17.35" lengthAdjust="spacingAndGlyphs">40</text>
<text x="119" y="1104.7" font-size="18.18" text-anchor="middle" textLength="24.57" lengthAdjust="spacingAndGlyphs">175</text>
<text x="180.4" y="1104.7" font-size="18.18" text-anchor="middle" textLength="24.57" lengthAdjust="spacingAndGlyphs">200</text>
<text x="238.9" y="1104.7" font-size="18.18" text-anchor="middle" textLength="24.57" lengthAdjust="spacingAndGlyphs">225</text>
<text x="298.5" y="1104.7" font-size="18.18" text-anchor="middle" textLength="24.57" lengthAdjust="spacingAndGlyphs">250</text>
<text x="358.6" y="1104.7" font-size="18.18" text-anchor="middle" textLength="24.57" lengthAdjust="spacingAndGlyphs">275</text>
<text x="418.4" y="1104.7" font-size="18.18" text-anchor="middle" textLength="24.57" lengthAdjust="spacingAndGlyphs">300</text>
<text x="478.3" y="1104.7" font-size="18.18" text-anchor="middle" textLength="24.57" lengthAdjust="spacingAndGlyphs">325</text>
<text x="538.15" y="1104.7" font-size="18.18" text-anchor="middle" textLength="24.57" lengthAdjust="spacingAndGlyphs">350</text>
<text x="61" y="1089.45" font-size="18.18" text-anchor="end" textLength="34" lengthAdjust="spacingAndGlyphs">1500</text>
<text x="61" y="1043.5" font-size="18.18" text-anchor="end" textLength="34" lengthAdjust="spacingAndGlyphs">2000</text>
<text x="61" y="999" font-size="18.18" text-anchor="end" textLength="34" lengthAdjust="spacingAndGlyphs">2500</text>
<text x="61" y="953.05" font-size="18.18" text-anchor="end" textLength="34" lengthAdjust="spacingAndGlyphs">3000</text>
<text x="61" y="907.15" font-size="18.18" text-anchor="end" textLength="34" lengthAdjust="spacingAndGlyphs">3500</text>
<text x="61" y="861.45" font-size="18.18" text-anchor="end" textLength="34" lengthAdjust="spacingAndGlyphs">4000</text>
<text x="328.45" y="817.1" font-size="21.98" text-anchor="middle" textLength="88.2" lengthAdjust="spacingAndGlyphs">ETH-USD</text>
<text x="327.88" y="1129" font-size="19.61" text-anchor="middle" textLength="248.25" lengthAdjust="spacingAndGlyphs">Sep. 28, 2020 - Sep. 28, 2021</text>
<text transform="translate(15.33 958.55) rotate(-90)" style="stroke-width:.1px" font-size="16.42" text-anchor="middle" textLength="177.5" lengthAdjust="spacingAndGlyphs">Close Price USD($)</text>
<!-- XPR-USD -->
<rect x="656.75" y="818.75" width="512.85" height="267.75" fill="#f0f0f0"/>
<path d="M708.95 823.59V1081.66M767 823.59V1081.66M825.3 823.59V1081.66M883.35 823.59V1081.66M941.7 823.59V1081.66M999.8 823.59V1081.66M1057.85 823.59V1081.66M1115.9 823.59V1081.66" stroke="#cdcdcd" stroke-width="1.47" fill="none"/>
<path d="M660.55 1078.8H1165.8M660.55 1044.95H1165.8M660.55 1011.1H1165.8M660.55 976H1165.8M660.55 941.9H1165.8M660.55 907.8H1165.8M660.55 873.95H1165.8M660.55 840.1H1165.8" stroke="#cdcdcd" stroke-width="1.53" fill="none"/>
<clipPath id="c5"><rect x="485.21" y="510.85" width="371.14" height="160.08"/></clipPath>
<g transform="scale(1.3614 1.6122)" fill="none" stroke-width="4" stroke-linejoin="round" stroke-linecap="butt" clip-path="url(#c5)">
<polyline points="500.04,662.59 501.75,664.60 503.46,663.75 505.16,661.21 506.87,661.00 508.58,661.21 510.29,661.32 512.00,656.02 513.71,655.49 515.42,652.10 517.12,651.89 518.83,660.79 520.54,656.76 522.25,652.52 523.96,652.73 525.67,653.05 527.38,650.83 529.09,651.14 530.79,650.40 532.50,649.45 534.21,646.59 535.92,649.34 537.63,642.99 539.34,615.75 541.05,593.93 542.75,612.26 544.46,601.66 546.17,602.72 547.88,565.63 549.59,567.75 551.30,555.04 553.01,521.13 554.71,516.89 556.42,526.43 558.13,541.26 559.84,545.50 561.55,561.40 563.26,571.99 564.97,564.57 566.68,573.05 568.38,588.95 570.09,587.89 571.80,600.60 573.51,601.66 575.22,563.52 576.93,562.46 578.64,566.69 580.34,561.40 582.05,542.32 583.76,535.97 585.47,545.50 587.18,545.50 588.89,562.46 590.60,540.20 592.30,541.26 594.01,543.38 595.72,544.44 597.43,549.74 599.14,562.46 600.85,556.10 602.56,578.35 604.26,565.63 605.97,560.34 607.68,560.34 609.39,557.16 611.10,549.74 612.81,542.85 614.52,597.42 616.23,584.71 617.93,605.90 619.64,614.38 621.35,627.09 623.06,606.96 624.77,608.02 626.48,601.66 628.19,608.02 629.89,616.50 631.60,623.91 633.31,615.44 635.02,600.60 636.73,603.78 638.44,601.66 640.15,600.60 641.85,609.08 643.56,613.32 645.27,611.20 646.98,619.67 648.69,618.61 650.40,614.38 652.11,618.61 653.82,620.73 655.52,622.85 657.23,617.56 658.94,616.50 660.65,618.61 662.36,622.85 664.07,621.79 665.78,627.09 667.48,630.27 669.19,628.15 670.90,644.05 672.61,652.52 674.32,644.05 676.03,639.81 677.74,646.16 679.44,645.11 681.15,641.93 682.86,642.99 684.57,636.63 686.28,636.63 687.99,640.87 689.70,640.87 691.40,639.81 693.11,637.69 694.82,641.93 696.53,640.87 698.24,641.93 699.95,645.11 701.66,644.05 703.37,645.11 705.07,644.05 706.78,645.11 708.49,646.16 710.20,645.11 711.91,648.28 713.62,649.34 715.33,649.34 717.03,649.34 718.74,652.52 720.45,654.64 722.16,650.40 723.87,648.28 725.58,647.22 727.29,646.16 728.99,647.22 730.70,644.05 732.41,641.93 734.12,634.51 735.83,632.39 737.54,631.33 739.25,631.33 740.96,634.51 742.66,632.39 744.37,635.57 746.08,633.45 747.79,633.45 749.50,631.33 751.21,623.91 752.92,628.15 754.62,623.91 756.33,620.73 758.04,604.84 759.75,608.02 761.46,595.30 763.17,575.17 764.88,574.11 766.58,584.71 768.29,595.30 770.00,590.01 771.71,581.53 773.42,577.29 775.13,580.47 776.84,580.47 778.54,578.35 780.25,591.07 781.96,585.77 783.67,597.42 785.38,586.83 787.09,590.01 788.80,591.07 790.51,594.24 792.21,584.71 793.92,580.47 795.63,577.29 797.34,575.17 799.05,578.35 800.76,571.99 802.47,563.52 804.17,592.12 805.88,593.18 807.59,594.24 809.30,599.54 811.01,597.42 812.72,592.12 814.43,598.48 816.13,595.30 817.84,592.12 819.55,595.30 821.26,597.42 822.97,596.36 824.68,599.54 826.39,613.32 828.10,617.56 829.80,605.90 831.51,604.84 833.22,611.20 834.93,611.20 836.64,611.20 838.35,613.32 840.06,613.85" stroke="#008fd5"/>
<polyline points="500.04,661.95 501.75,662.27 503.46,662.45 505.16,662.38 506.87,662.30 508.58,662.42 510.29,662.54 512.00,661.95 513.71,661.17 515.42,659.93 517.12,658.86 518.83,658.48 520.54,657.78 522.25,656.91 523.96,656.08 525.67,655.27 527.38,654.22 529.09,653.73 530.79,653.22 532.50,652.96 534.21,652.43 535.92,651.28 537.63,649.91 539.34,646.23 541.05,640.35 542.75,636.27 544.46,631.35 546.17,626.51 547.88,618.03 549.59,609.86 551.30,600.71 553.01,587.89 554.71,575.28 556.42,566.34 558.13,561.08 559.84,554.40 561.55,550.38 563.26,547.30 564.97,547.20 566.68,547.73 568.38,551.12 570.09,557.79 571.80,566.16 573.51,573.69 575.22,575.91 576.93,577.61 578.64,578.14 580.34,577.08 582.05,574.85 583.76,571.14 585.47,566.80 587.18,562.56 588.89,558.75 590.60,552.60 592.30,550.38 594.01,548.47 595.72,546.24 597.43,545.08 599.14,547.09 600.85,549.10 602.56,552.39 604.26,554.40 605.97,554.19 607.68,556.20 609.39,557.79 611.10,558.43 612.81,558.27 614.52,563.04 616.23,565.26 617.93,570.24 619.64,573.85 621.35,579.99 623.06,584.65 624.77,589.42 626.48,593.87 628.19,599.70 629.89,607.07 631.60,609.71 633.31,612.79 635.02,612.26 636.73,611.20 638.44,608.65 640.15,608.02 641.85,608.12 643.56,609.29 645.27,609.61 646.98,609.93 648.69,609.40 650.40,609.29 652.11,611.09 653.82,612.79 655.52,614.91 657.23,616.60 658.94,617.34 660.65,617.87 662.36,619.04 664.07,619.25 665.78,620.10 667.48,621.69 669.19,622.64 670.90,624.97 672.61,627.94 674.32,630.59 676.03,632.92 677.74,635.67 679.44,637.90 681.15,639.91 682.86,641.50 684.57,642.14 686.28,642.99 687.99,642.67 689.70,641.50 691.40,641.08 693.11,640.87 694.82,640.44 696.53,640.02 698.24,640.02 699.95,640.23 701.66,640.97 703.37,641.82 705.07,642.14 706.78,642.56 708.49,643.20 710.20,643.94 711.91,644.58 713.62,645.42 715.33,646.16 717.03,646.59 718.74,647.44 720.45,648.39 722.16,649.03 723.87,649.34 725.58,649.45 727.29,649.56 728.99,649.45 730.70,648.92 732.41,648.18 734.12,646.69 735.83,644.68 737.54,642.35 739.25,640.44 740.96,639.07 742.66,637.58 744.37,636.52 746.08,635.14 747.79,634.09 749.50,633.03 751.21,631.97 752.92,631.54 754.62,630.80 756.33,629.74 758.04,626.77 759.75,624.34 761.46,620.31 763.17,614.48 764.88,608.55 766.58,603.89 768.29,601.03 770.00,597.21 771.71,592.97 773.42,588.63 775.13,586.19 776.84,583.44 778.54,581.74 780.25,583.33 781.96,584.50 783.67,585.77 785.38,584.92 787.09,584.92 788.80,585.87 790.51,587.57 792.21,587.99 793.92,587.99 795.63,587.89 797.34,586.30 799.05,585.56 800.76,583.01 802.47,580.68 804.17,580.89 805.88,581.10 807.59,581.10 809.30,582.59 811.01,584.28 812.72,585.77 814.43,588.10 816.13,589.79 817.84,591.81 819.55,594.99 821.26,595.52 822.97,595.83 824.68,596.36 826.39,597.74 828.10,599.75 829.80,601.13 831.51,601.77 833.22,603.36 834.93,605.26 836.64,606.85 838.35,608.44 840.06,610.19" stroke="#fc4f30"/>
<polyline points="500.04,662.28 501.75,662.95 503.46,663.11 505.16,663.14 506.87,662.96 508.58,662.74 510.29,662.58 512.00,662.04 513.71,661.62 515.42,660.98 517.12,660.41 518.83,660.37 520.54,660.11 522.25,659.64 523.96,659.19 525.67,658.84 527.38,658.38 529.09,657.84 530.79,657.20 532.50,656.44 534.21,655.64 535.92,654.88 537.63,653.84 539.34,651.57 541.05,648.22 542.75,645.77 544.46,642.78 546.17,640.12 547.88,635.63 549.59,631.41 551.30,626.57 553.01,619.58 554.71,612.59 556.42,606.29 558.13,600.71 559.84,595.34 561.55,590.86 563.26,586.91 564.97,582.61 566.68,578.79 568.38,575.91 570.09,572.84 571.80,570.72 573.51,570.02 575.22,568.50 576.93,566.01 578.64,564.26 580.34,562.19 582.05,561.03 583.76,559.44 585.47,558.96 587.18,560.18 588.89,562.46 590.60,563.14 592.30,563.14 594.01,563.04 595.72,562.19 597.43,561.08 599.14,560.97 600.85,560.12 602.56,559.59 604.26,558.48 605.97,556.47 607.68,554.40 609.39,554.08 611.10,553.45 612.81,552.26 614.52,554.06 616.23,556.18 617.93,559.67 619.64,563.12 621.35,567.20 623.06,569.42 624.77,572.81 626.48,575.83 628.19,579.06 629.89,582.67 631.60,586.38 633.31,589.03 635.02,591.25 636.73,592.52 638.44,594.32 640.15,596.34 641.85,598.77 643.56,601.58 645.27,604.65 646.98,608.50 648.69,609.56 650.40,611.04 652.11,611.67 653.82,611.99 655.52,611.78 657.23,612.31 658.94,612.73 660.65,613.58 662.36,614.32 664.07,614.59 665.78,614.75 667.48,615.49 669.19,616.87 670.90,618.88 672.61,621.42 674.32,623.60 676.03,625.13 677.74,626.77 679.44,628.47 681.15,629.58 682.86,630.80 684.57,631.91 686.28,632.81 687.99,633.82 689.70,634.72 691.40,635.83 693.11,636.89 694.82,638.06 696.53,638.96 698.24,639.97 699.95,640.87 701.66,641.56 703.37,642.40 705.07,642.40 706.78,642.03 708.49,642.14 710.20,642.40 711.91,642.51 713.62,642.72 715.33,643.09 717.03,643.41 718.74,644.20 720.45,645.11 722.16,645.58 723.87,645.95 725.58,646.32 727.29,646.75 728.99,647.01 730.70,647.17 732.41,647.17 734.12,646.64 735.83,646.06 737.54,645.37 739.25,644.73 740.96,644.20 742.66,643.52 744.37,643.04 746.08,642.30 747.79,641.50 749.50,640.60 751.21,639.33 752.92,638.11 754.62,636.58 756.33,635.09 758.04,632.92 759.75,630.96 761.46,628.42 763.17,624.81 764.88,621.32 766.58,618.46 768.29,616.50 770.00,614.38 771.71,611.89 773.42,609.18 775.13,606.48 776.84,603.89 778.54,601.03 780.25,598.91 781.96,596.52 783.67,594.83 785.38,592.97 787.09,591.07 788.80,589.42 790.51,588.10 792.21,587.09 793.92,585.71 795.63,584.81 797.34,584.81 799.05,585.03 800.76,584.39 802.47,582.80 804.17,582.91 805.88,583.49 807.59,584.34 809.30,585.29 811.01,586.14 812.72,586.83 814.43,587.20 816.13,587.67 817.84,587.41 819.55,587.83 821.26,588.20 822.97,588.47 824.68,588.73 826.39,590.16 828.10,592.02 829.80,593.45 831.51,594.93 833.22,596.57 834.93,598.54 836.64,600.92 838.35,601.98 840.06,603.01" stroke="#e5ae38"/>
<polyline points="500.04,658.82 501.75,659.37 503.46,659.95 505.16,660.36 506.87,660.66 508.58,660.86 510.29,661.09 512.00,661.17 513.71,661.31 515.42,661.20 517.12,661.14 518.83,661.46 520.54,661.33 522.25,661.07 523.96,660.67 525.67,660.25 527.38,659.79 529.09,659.27 530.79,658.82 532.50,658.31 534.21,657.75 535.92,657.34 537.63,656.71 539.34,655.17 541.05,652.91 542.75,651.32 544.46,649.37 546.17,647.40 547.88,644.14 549.59,640.92 551.30,637.33 553.01,632.55 554.71,627.65 556.42,623.16 558.13,619.17 559.84,615.31 561.55,611.98 563.26,609.18 564.97,606.15 566.68,603.52 568.38,601.42 570.09,598.99 571.80,597.12 573.51,595.42 575.22,592.45 576.93,589.43 578.64,586.62 580.34,583.63 582.05,580.03 583.76,576.24 585.47,572.88 587.18,569.41 588.89,566.73 590.60,564.21 592.30,562.46 594.01,560.16 595.72,558.25 597.43,556.49 599.14,556.38 600.85,555.99 602.56,556.77 604.26,558.25 605.97,559.70 607.68,560.83 609.39,561.36 611.10,561.50 612.81,560.88 614.52,561.73 616.23,562.40 617.93,563.50 619.64,564.35 621.35,565.65 623.06,565.86 624.77,566.08 626.48,567.35 628.19,568.87 629.89,570.53 631.60,572.61 633.31,575.05 635.02,577.20 636.73,579.14 638.44,581.02 640.15,582.29 641.85,584.58 643.56,586.99 645.27,589.25 646.98,591.75 648.69,594.05 650.40,595.78 652.11,597.86 653.82,599.28 655.52,601.18 657.23,603.09 658.94,604.96 660.65,607.01 662.36,609.45 664.07,612.08 665.78,613.07 667.48,614.59 669.19,615.33 670.90,616.32 672.61,617.17 674.32,618.40 676.03,619.46 677.74,620.95 679.44,622.18 681.15,623.03 682.86,623.67 684.57,624.37 686.28,625.57 687.99,626.81 689.70,628.12 691.40,629.42 693.11,630.38 694.82,631.33 696.53,632.32 698.24,633.06 699.95,633.94 701.66,634.93 703.37,635.82 705.07,636.59 706.78,637.33 708.49,638.29 710.20,639.24 711.91,640.23 713.62,641.11 715.33,642.03 717.03,642.77 718.74,643.52 720.45,644.40 722.16,644.61 723.87,644.47 725.58,644.58 727.29,644.79 728.99,644.82 730.70,644.79 732.41,644.79 734.12,644.50 735.83,644.36 737.54,644.19 739.25,643.87 740.96,643.66 742.66,643.41 744.37,643.34 746.08,643.06 747.79,642.81 749.50,642.46 751.21,641.75 752.92,641.22 754.62,640.51 756.33,639.74 758.04,638.39 759.75,637.12 761.46,635.46 763.17,633.03 764.88,630.52 766.58,628.36 768.29,626.56 770.00,624.48 771.71,622.04 773.42,619.60 775.13,617.34 776.84,615.12 778.54,612.86 780.25,610.99 781.96,609.04 783.67,607.56 785.38,605.97 787.09,604.56 788.80,603.22 790.51,601.98 792.21,600.32 793.92,598.59 795.63,596.65 797.34,594.70 799.05,592.87 800.76,590.89 802.47,588.88 804.17,587.67 805.88,586.65 807.59,585.77 809.30,585.59 811.01,585.24 812.72,585.13 814.43,585.91 816.13,586.61 817.84,586.86 819.55,586.86 821.26,587.11 822.97,587.60 824.68,588.35 826.39,589.44 828.10,590.68 829.80,591.59 831.51,592.05 833.22,592.90 834.93,593.36 836.64,594.17 838.35,594.95 840.06,595.71" stroke="#6d904f"/>
<polyline points="500.04,660.05 501.75,659.87 503.46,659.74 505.16,659.68 506.87,659.59 508.58,659.50 510.29,659.35 512.00,659.16 513.71,659.03 515.42,658.90 517.12,658.83 518.83,659.15 520.54,659.41 522.25,659.50 523.96,659.51 525.67,659.47 527.38,659.37 529.09,659.31 530.79,659.29 532.50,659.14 534.21,658.96 535.92,658.92 537.63,658.47 539.34,657.36 541.05,655.59 542.75,654.25 544.46,652.68 546.17,651.08 547.88,648.62 549.59,646.20 551.30,643.49 553.01,639.98 554.71,636.35 556.42,632.96 558.13,629.95 559.84,627.09 561.55,624.62 563.26,622.37 564.97,619.90 566.68,617.62 568.38,615.78 570.09,613.86 571.80,612.28 573.51,610.79 575.22,608.36 576.93,605.89 578.64,603.52 580.34,601.16 582.05,598.33 583.76,595.42 585.47,592.76 587.18,589.88 588.89,587.52 590.60,584.72 592.30,581.93 594.01,579.19 595.72,576.53 597.43,573.99 599.14,571.79 600.85,569.46 602.56,567.75 604.26,565.66 605.97,563.59 607.68,562.21 609.39,561.29 611.10,559.73 612.81,558.26 614.52,558.12 616.23,558.60 617.93,559.55 619.64,561.04 621.35,563.69 623.06,565.94 624.77,567.98 626.48,569.49 628.19,571.05 629.89,572.43 631.60,573.73 633.31,575.00 635.02,575.69 636.73,576.06 638.44,576.40 640.15,576.40 641.85,576.59 643.56,577.83 645.27,579.05 646.98,580.38 648.69,581.81 650.40,583.61 652.11,585.67 653.82,587.56 655.52,589.49 657.23,590.87 658.94,592.77 660.65,594.71 662.36,596.69 664.07,598.63 665.78,600.56 667.48,602.26 669.19,604.06 670.90,605.70 672.61,607.87 674.32,609.97 676.03,611.95 677.74,614.18 679.44,616.56 681.15,619.04 682.86,620.18 684.57,621.48 686.28,622.24 687.99,622.91 689.70,623.25 691.40,624.07 693.11,624.81 694.82,625.82 696.53,626.64 698.24,627.28 699.95,627.81 701.66,628.52 703.37,629.63 705.07,630.64 706.78,631.73 708.49,632.87 710.20,633.77 711.91,634.64 713.62,635.60 715.33,636.34 717.03,637.11 718.74,638.06 720.45,638.96 722.16,639.70 723.87,640.34 725.58,641.08 727.29,641.82 728.99,642.54 730.70,643.07 732.41,643.57 734.12,643.75 735.83,643.81 737.54,643.89 739.25,643.57 740.96,643.12 742.66,642.83 744.37,642.72 746.08,642.40 747.79,642.11 749.50,641.85 751.21,641.37 752.92,641.16 754.62,640.84 756.33,640.34 758.04,639.44 759.75,638.64 761.46,637.58 763.17,635.91 764.88,634.24 766.58,632.81 768.29,631.57 770.00,630.22 771.71,628.63 773.42,626.96 775.13,625.34 776.84,623.70 778.54,622.03 780.25,620.60 781.96,619.01 783.67,617.71 785.38,616.15 787.09,614.59 788.80,613.00 790.51,611.59 792.21,610.01 793.92,608.34 795.63,606.61 797.34,604.81 799.05,603.17 800.76,601.42 802.47,599.65 804.17,598.64 805.88,597.69 807.59,596.76 809.30,595.89 811.01,595.01 812.72,593.93 814.43,593.05 816.13,592.10 817.84,591.12 819.55,590.40 821.26,589.63 822.97,588.95 824.68,588.42 826.39,588.63 828.10,588.87 829.80,589.13 831.51,589.87 833.22,590.80 834.93,591.46 836.64,591.86 838.35,592.44 840.06,593.25" stroke="#8b8b8b"/>
</g>
<rect x="1074.85" y="828.5" width="85.15" height="132.1" rx="3" ry="3.55" fill="#f0f0f0" fill-opacity="0.8" stroke="#d8d8d8" stroke-opacity="0.75" stroke-width="1.1"/>
<rect x="1079" y="839.38" width="26.7" height="6.45" fill="#008fd5"/>
<text x="1116.66" y="848.57" font-size="17.8" text-anchor="start" textLength="12.25" lengthAdjust="spacingAndGlyphs">df</text>
<rect x="1079" y="863.68" width="26.7" height="6.45" fill="#fc4f30"/>
<text x="1116.66" y="874.41" font-size="17.8" text-anchor="start" textLength="12.25" lengthAdjust="spacingAndGlyphs">df</text>
<rect x="1129.32" y="878.12" width="6.4" height="1.29" fill="#141414"/>
<text x="1135.31" y="874.41" font-size="17.8" text-anchor="start" textLength="16.88" lengthAdjust="spacingAndGlyphs">10</text>
<rect x="1079" y="889.48" width="26.7" height="6.45" fill="#e5ae38"/>
<text x="1116.66" y="900.25" font-size="17.8" text-anchor="start" textLength="12.25" lengthAdjust="spacingAndGlyphs">df</text>
<rect x="1129.32" y="903.96" width="6.4" height="1.29" fill="#141414"/>
<text x="1135.85" y="900.25" font-size="17.8" text-anchor="start" textLength="16.88" lengthAdjust="spacingAndGlyphs">20</text>
<rect x="1079" y="915.38" width="26.7" height="6.45" fill="#6d904f"/>
<text x="1116.66" y="926.09" font-size="17.8" text-anchor="start" textLength="12.25" lengthAdjust="spacingAndGlyphs">df</text>
<rect x="1129.32" y="929.8" width="6.4" height="1.29" fill="#141414"/>
<text x="1135.85" y="926.09" font-size="17.8" text-anchor="start" textLength="16.88" lengthAdjust="spacingAndGlyphs">30</text>
<rect x="1079" y="939.48" width="26.7" height="6.45" fill="#8b8b8b"/>
<text x="1116.66" y="951.94" font-size="17.8" text-anchor="start" textLength="12.25" lengthAdjust="spacingAndGlyphs">df</text>
<rect x="1129.32" y="955.65" width="6.4" height="1.29" fill="#141414"/>
<text x="1135.85" y="951.94" font-size="17.8" text-anchor="start" textLength="16.88" lengthAdjust="spacingAndGlyphs">40</text>
<text x="707.45" y="1104.6" font-size="18.54" text-anchor="middle" textLength="23.9" lengthAdjust="spacingAndGlyphs">175</text>
<text x="767" y="1104.6" font-size="18.54" text-anchor="middle" textLength="23.9" lengthAdjust="spacingAndGlyphs">200</text>
<text x="825.3" y="1104.6" font-size="18.54" text-anchor="middle" textLength="23.9" lengthAdjust="spacingAndGlyphs">225</text>
<text x="883.35" y="1104.6" font-size="18.54" text-anchor="middle" textLength="23.9" lengthAdjust="spacingAndGlyphs">250</text>
<text x="941.7" y="1104.6" font-size="18.54" text-anchor="middle" textLength="23.9" lengthAdjust="spacingAndGlyphs">275</text>
<text x="999.8" y="1104.6" font-size="18.54" text-anchor="middle" textLength="23.9" lengthAdjust="spacingAndGlyphs">300</text>
<text x="1057.85" y="1104.6" font-size="18.54" text-anchor="middle" textLength="23.9" lengthAdjust="spacingAndGlyphs">325</text>
<text x="1115.9" y="1104.6" font-size="18.54" text-anchor="middle" textLength="23.9" lengthAdjust="spacingAndGlyphs">350</text>
<text x="651" y="1087.17" font-size="18.54" text-anchor="end" textLength="19.05" lengthAdjust="spacingAndGlyphs">0.4</text>
<text x="651" y="1053.32" font-size="18.54" text-anchor="end" textLength="19.05" lengthAdjust="spacingAndGlyphs">0.6</text>
<text x="651" y="1019.47" font-size="18.54" text-anchor="end" textLength="19.05" lengthAdjust="spacingAndGlyphs">0.8</text>
<text x="651" y="984.37" font-size="18.54" text-anchor="end" textLength="19.05" lengthAdjust="spacingAndGlyphs">1.0</text>
<text x="651" y="950.27" font-size="18.54" text-anchor="end" textLength="19.05" lengthAdjust="spacingAndGlyphs">1.2</text>
<text x="651" y="916.17" font-size="18.54" text-anchor="end" textLength="19.05" lengthAdjust="spacingAndGlyphs">1.4</text>
<text x="651" y="882.32" font-size="18.54" text-anchor="end" textLength="19.05" lengthAdjust="spacingAndGlyphs">1.6</text>
<text x="651" y="848.47" font-size="18.54" text-anchor="end" textLength="19.05" lengthAdjust="spacingAndGlyphs">1.8</text>
<text x="911.3" y="811.2" font-size="22.41" text-anchor="middle" textLength="84.7" lengthAdjust="spacingAndGlyphs">XPR-USD</text>
<text x="911.25" y="1129" font-size="19.99" text-anchor="middle" textLength="241.5" lengthAdjust="spacingAndGlyphs">Sep. 28, 2020 - Sep. 28, 2021</text>
<text transform="translate(619.82 955.5) rotate(-90)" style="stroke-width:.1px" font-size="15.97" text-anchor="middle" textLength="180.4" lengthAdjust="spacingAndGlyphs">Close Price USD($)</text>
</g></svg>
</body></html>
